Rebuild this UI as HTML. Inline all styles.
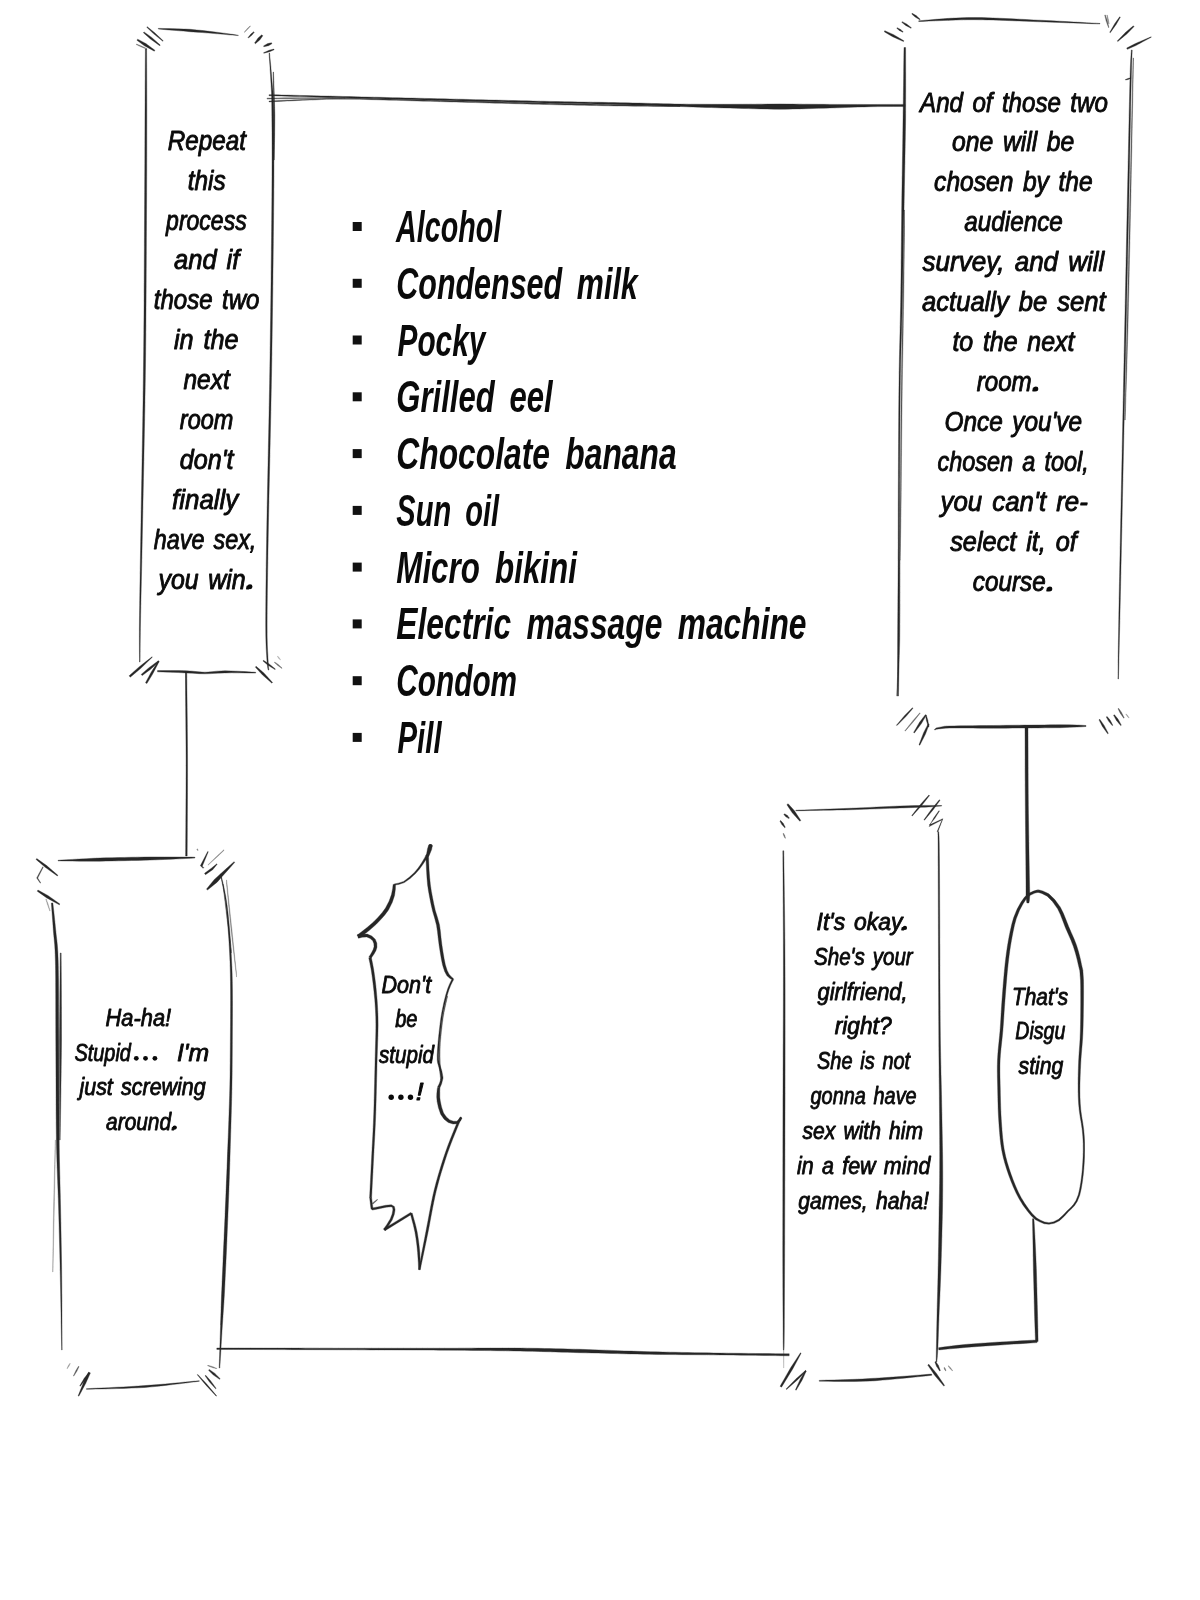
<!DOCTYPE html>
<html><head><meta charset="utf-8"><title>page</title>
<style>
html,body{margin:0;padding:0;background:#fff;}
body{width:1200px;height:1600px;overflow:hidden;font-family:"Liberation Sans",sans-serif;}
svg{display:block;will-change:transform;}
text{font-family:"Liberation Sans",sans-serif;font-style:italic;fill:#0a0a0a;stroke:#0a0a0a;stroke-linejoin:round;}
</style></head><body>
<svg width="1200" height="1600" viewBox="0 0 1200 1600">
<rect width="1200" height="1600" fill="#fff"/>
<defs><filter id="soft" x="-2%" y="-2%" width="104%" height="104%"><feGaussianBlur stdDeviation="0.4"/></filter></defs>
<g filter="url(#soft)">
<path d="M145.40,49.00 L145.36,52.50 L145.33,56.83 L145.29,61.90 L145.26,67.62 L145.22,73.87 L145.18,80.58 L145.14,87.65 L145.09,94.97 L145.05,102.45 L145.00,110.00 L144.98,115.00 L144.96,119.97 L144.95,124.94 L144.93,129.96 L144.91,135.07 L144.89,140.31 L144.87,145.72 L144.85,151.34 L144.83,157.20 L144.80,163.37 L144.77,169.86 L144.73,176.73 L144.69,184.02 L144.65,191.76 L144.60,199.99 L144.57,204.82 L144.55,209.84 L144.52,215.05 L144.50,220.44 L144.47,225.98 L144.44,231.68 L144.41,237.51 L144.39,243.47 L144.36,249.55 L144.32,255.73 L144.29,262.00 L144.26,268.35 L144.22,274.76 L144.19,281.24 L144.15,287.75 L144.11,294.30 L144.07,300.86 L144.02,307.44 L143.98,314.01 L143.93,320.56 L143.87,327.09 L143.82,333.57 L143.76,340.01 L143.70,346.38 L143.64,352.67 L143.57,358.88 L143.50,364.99 L143.43,371.08 L143.36,377.26 L143.28,383.50 L143.20,389.79 L143.11,396.13 L143.02,402.51 L142.92,408.92 L142.82,415.34 L142.72,421.76 L142.61,428.18 L142.51,434.59 L142.40,440.98 L142.29,447.32 L142.18,453.63 L142.07,459.88 L141.96,466.07 L141.86,472.18 L141.75,478.21 L141.64,484.14 L141.54,489.97 L141.44,495.68 L141.34,501.27 L141.24,506.72 L141.15,512.03 L141.06,517.18 L140.98,522.17 L140.90,526.99 L140.77,535.30 L140.64,543.23 L140.52,550.82 L140.40,558.06 L140.28,564.99 L140.17,571.60 L140.06,577.93 L139.96,583.98 L139.87,589.77 L139.78,595.32 L139.70,600.64 L139.63,605.76 L139.56,610.68 L139.50,615.42 L139.45,619.99 L139.38,629.04 L139.36,636.94 L139.38,643.77 L139.41,649.62 L139.46,654.55 L139.51,658.65 L139.55,662.00 L140.05,662.00 L140.10,658.65 L140.13,654.55 L140.17,649.62 L140.22,643.77 L140.29,636.94 L140.40,629.05 L140.55,620.01 L140.63,615.43 L140.73,610.69 L140.83,605.78 L140.93,600.67 L141.05,595.35 L141.17,589.80 L141.30,584.00 L141.43,577.95 L141.57,571.63 L141.71,565.01 L141.86,558.09 L142.02,550.85 L142.17,543.26 L142.33,535.32 L142.50,527.01 L142.59,522.20 L142.69,517.21 L142.79,512.06 L142.90,506.75 L143.01,501.30 L143.13,495.71 L143.24,490.00 L143.36,484.17 L143.48,478.24 L143.60,472.21 L143.73,466.10 L143.85,459.91 L143.98,453.66 L144.10,447.36 L144.22,441.01 L144.35,434.62 L144.47,428.22 L144.59,421.79 L144.70,415.37 L144.82,408.95 L144.93,402.54 L145.03,396.16 L145.14,389.82 L145.24,383.52 L145.33,377.28 L145.42,371.11 L145.50,365.01 L145.57,358.90 L145.64,352.69 L145.70,346.40 L145.76,340.02 L145.82,333.59 L145.87,327.10 L145.93,320.58 L145.98,314.02 L146.02,307.45 L146.07,300.88 L146.11,294.31 L146.15,287.76 L146.19,281.25 L146.22,274.78 L146.26,268.36 L146.29,262.01 L146.32,255.74 L146.36,249.56 L146.39,243.48 L146.41,237.52 L146.44,231.69 L146.47,225.99 L146.50,220.45 L146.52,215.06 L146.55,209.85 L146.57,204.83 L146.60,200.01 L146.64,191.77 L146.67,184.03 L146.69,176.74 L146.72,169.87 L146.73,163.37 L146.75,157.21 L146.76,151.34 L146.77,145.72 L146.77,140.31 L146.78,135.08 L146.78,129.97 L146.79,124.95 L146.79,119.97 L146.79,115.00 L146.80,110.00 L146.79,102.45 L146.77,94.97 L146.76,87.65 L146.74,80.59 L146.72,73.88 L146.70,67.62 L146.67,61.90 L146.65,56.83 L146.62,52.50 L146.60,49.00Z" fill="#262626" stroke="#262626" stroke-width="0.35" stroke-linejoin="round" opacity="1"/>
<path d="M269.05,53.02 L269.38,58.26 L269.90,65.78 L270.45,74.18 L270.90,82.04 L271.22,87.67 L271.49,92.24 L271.69,98.69 L271.80,110.02 L271.85,114.05 L271.89,118.33 L271.93,122.84 L271.96,127.60 L271.99,132.63 L272.01,137.94 L272.03,143.53 L272.03,149.42 L272.04,155.62 L272.03,162.15 L272.01,169.00 L271.99,176.20 L271.95,183.76 L271.91,191.69 L271.85,199.99 L271.81,204.82 L271.77,209.84 L271.73,215.05 L271.68,220.43 L271.63,225.98 L271.57,231.67 L271.52,237.51 L271.46,243.47 L271.39,249.55 L271.33,255.72 L271.26,261.99 L271.19,268.34 L271.11,274.76 L271.04,281.23 L270.96,287.75 L270.88,294.29 L270.80,300.86 L270.71,307.43 L270.63,314.00 L270.54,320.56 L270.45,327.08 L270.36,333.57 L270.27,340.00 L270.18,346.37 L270.09,352.67 L269.99,358.88 L269.90,364.99 L269.80,371.08 L269.70,377.24 L269.60,383.47 L269.49,389.74 L269.37,396.06 L269.25,402.41 L269.13,408.79 L269.01,415.18 L268.88,421.57 L268.75,427.97 L268.62,434.34 L268.49,440.70 L268.37,447.02 L268.24,453.30 L268.11,459.54 L267.98,465.71 L267.85,471.81 L267.73,477.83 L267.61,483.77 L267.49,489.61 L267.38,495.34 L267.27,500.96 L267.16,506.45 L267.06,511.81 L266.97,517.02 L266.88,522.09 L266.80,526.99 L266.67,534.98 L266.55,542.73 L266.44,550.22 L266.33,557.46 L266.23,564.46 L266.14,571.20 L266.06,577.69 L265.98,583.93 L265.91,589.92 L265.86,595.67 L265.81,601.17 L265.77,606.42 L265.74,611.43 L265.71,616.20 L265.70,620.72 L265.70,625.00 L265.79,636.44 L266.02,644.76 L266.32,650.86 L266.63,655.64 L266.90,660.04 L267.60,667.23 L268.15,670.05 L268.85,669.95 L268.54,667.14 L268.10,659.96 L267.87,655.57 L267.60,650.79 L267.34,644.71 L267.15,636.42 L267.10,625.00 L267.11,620.72 L267.14,616.21 L267.17,611.44 L267.22,606.44 L267.27,601.18 L267.33,595.68 L267.40,589.94 L267.48,583.95 L267.57,577.71 L267.66,571.22 L267.77,564.48 L267.88,557.49 L268.00,550.25 L268.13,542.76 L268.26,535.01 L268.40,527.01 L268.49,522.12 L268.58,517.05 L268.69,511.84 L268.79,506.48 L268.90,500.99 L269.02,495.38 L269.14,489.64 L269.27,483.81 L269.40,477.87 L269.53,471.85 L269.66,465.74 L269.80,459.57 L269.93,453.34 L270.07,447.06 L270.21,440.74 L270.34,434.38 L270.48,428.00 L270.61,421.61 L270.75,415.21 L270.88,408.82 L271.01,402.45 L271.13,396.10 L271.26,389.78 L271.37,383.50 L271.49,377.27 L271.60,371.11 L271.70,365.01 L271.80,358.90 L271.89,352.70 L271.99,346.40 L272.09,340.03 L272.18,333.59 L272.27,327.11 L272.37,320.58 L272.46,314.03 L272.55,307.46 L272.63,300.88 L272.72,294.32 L272.80,287.77 L272.88,281.25 L272.96,274.78 L273.04,268.36 L273.12,262.02 L273.19,255.75 L273.26,249.57 L273.33,243.49 L273.39,237.53 L273.45,231.69 L273.51,226.00 L273.56,220.45 L273.62,215.07 L273.66,209.86 L273.71,204.83 L273.75,200.01 L273.81,191.70 L273.87,183.77 L273.91,176.21 L273.94,169.01 L273.96,162.15 L273.98,155.62 L273.98,149.42 L273.98,143.53 L273.97,137.93 L273.95,132.63 L273.93,127.59 L273.91,122.83 L273.87,118.31 L273.84,114.03 L273.80,109.98 L273.49,98.64 L273.09,92.14 L272.62,87.56 L272.10,81.96 L271.47,74.10 L270.74,65.72 L270.05,58.21 L269.55,52.98Z" fill="#262626" stroke="#262626" stroke-width="0.35" stroke-linejoin="round" opacity="1"/>
<path d="M273.10,72.01 L273.16,75.88 L273.27,81.10 L273.40,87.32 L273.54,94.18 L273.67,101.32 L273.76,108.38 L273.80,115.00 L273.87,121.72 L273.89,129.02 L273.88,136.50 L273.85,143.75 L273.82,150.36 L273.80,155.91 L273.80,160.00 L274.20,160.00 L274.28,155.92 L274.39,150.37 L274.50,143.76 L274.62,136.51 L274.71,129.03 L274.78,121.72 L274.80,115.00 L274.67,108.37 L274.49,101.31 L274.28,94.17 L274.06,87.31 L273.84,81.09 L273.64,75.86 L273.50,71.99Z" fill="#262626" stroke="#262626" stroke-width="0.35" stroke-linejoin="round" opacity="1"/>
<path d="M158.28,29.00 L162.69,29.42 L168.98,29.93 L176.23,30.50 L183.52,31.10 L189.91,31.70 L196.67,32.13 L202.93,32.60 L208.94,33.09 L214.92,33.60 L223.69,34.34 L232.28,35.11 L238.28,35.60 L238.32,35.20 L232.37,34.32 L223.82,33.14 L215.08,32.00 L209.12,31.30 L203.12,30.60 L196.85,29.94 L190.09,29.30 L183.64,29.06 L176.33,28.82 L169.05,28.61 L162.74,28.46 L158.32,28.40Z" fill="#262626" stroke="#262626" stroke-width="0.35" stroke-linejoin="round" opacity="1"/>
<path d="M157.49,671.80 L162.83,672.02 L170.55,672.27 L178.85,672.57 L185.95,672.90 L192.93,673.24 L198.89,673.65 L205.00,673.80 L211.26,673.60 L217.57,673.13 L225.02,672.90 L230.93,672.82 L237.96,672.87 L245.09,672.98 L251.33,673.08 L255.69,673.10 L255.71,672.30 L251.37,672.00 L245.14,671.62 L238.01,671.23 L230.97,670.90 L224.98,670.70 L217.44,671.14 L211.13,671.80 L205.00,672.20 L199.00,671.86 L193.07,671.25 L186.05,670.70 L178.90,670.62 L170.58,670.58 L162.86,670.57 L157.51,670.60Z" fill="#262626" stroke="#262626" stroke-width="0.35" stroke-linejoin="round" opacity="1"/>
<path d="M146.75,27.28 L153.71,33.86 L162.80,41.23 L163.20,40.77 L154.69,32.74 L147.25,26.72Z" fill="#262626" stroke="#262626" stroke-width="0.35" stroke-linejoin="round" opacity="1"/>
<path d="M143.39,32.69 L150.41,38.97 L159.75,45.71 L160.25,45.09 L151.66,37.42 L144.01,31.91Z" fill="#262626" stroke="#262626" stroke-width="0.35" stroke-linejoin="round" opacity="1"/>
<path d="M136.95,40.25 L144.39,45.75 L154.32,51.14 L154.88,50.26 L145.78,43.55 L137.65,39.15Z" fill="#262626" stroke="#262626" stroke-width="0.35" stroke-linejoin="round" opacity="1"/>
<path d="M136.20,44.53 L140.91,46.87 L146.92,49.18 L147.08,48.82 L141.32,45.96 L136.40,44.07Z" fill="#262626" stroke="#262626" stroke-width="0.35" stroke-linejoin="round" opacity="0.7"/>
<path d="M250.16,25.86 L247.31,28.56 L244.18,32.19 L244.42,32.41 L247.89,29.11 L250.44,26.14Z" fill="#262626" stroke="#262626" stroke-width="0.35" stroke-linejoin="round" opacity="0.6"/>
<path d="M253.73,31.73 L250.90,34.03 L248.09,37.49 L248.51,37.91 L251.97,35.10 L254.27,32.27Z" fill="#262626" stroke="#262626" stroke-width="0.35" stroke-linejoin="round" opacity="1"/>
<path d="M261.82,34.86 L258.05,38.02 L254.62,42.95 L255.38,43.65 L259.98,39.78 L262.78,35.74Z" fill="#262626" stroke="#262626" stroke-width="0.35" stroke-linejoin="round" opacity="1"/>
<path d="M271.51,42.79 L267.71,43.62 L263.55,45.89 L263.85,46.71 L268.49,45.68 L271.89,43.81Z" fill="#262626" stroke="#262626" stroke-width="0.35" stroke-linejoin="round" opacity="1"/>
<path d="M273.88,49.05 L269.12,50.31 L263.60,52.72 L263.80,53.28 L269.61,51.73 L274.12,49.75Z" fill="#262626" stroke="#262626" stroke-width="0.35" stroke-linejoin="round" opacity="1"/>
<path d="M130.28,677.17 L140.55,668.56 L146.44,662.86 L152.34,657.17 L152.06,656.83 L145.58,661.86 L139.10,666.89 L129.12,675.83Z" fill="#262626" stroke="#262626" stroke-width="0.35" stroke-linejoin="round" opacity="1"/>
<path d="M142.19,675.60 L150.04,669.64 L159.05,661.63 L158.35,660.77 L148.66,667.94 L141.21,674.40Z" fill="#262626" stroke="#262626" stroke-width="0.35" stroke-linejoin="round" opacity="1"/>
<path d="M146.87,683.58 L152.78,673.84 L159.18,661.47 L158.22,660.93 L150.87,672.76 L145.53,682.82Z" fill="#262626" stroke="#262626" stroke-width="0.35" stroke-linejoin="round" opacity="1"/>
<path d="M255.30,667.11 L262.32,674.77 L271.88,683.13 L272.52,682.47 L263.93,673.12 L256.10,666.29Z" fill="#262626" stroke="#262626" stroke-width="0.35" stroke-linejoin="round" opacity="1"/>
<path d="M262.95,661.05 L268.10,665.26 L275.00,669.58 L275.40,669.02 L269.10,663.88 L263.45,660.35Z" fill="#262626" stroke="#262626" stroke-width="0.35" stroke-linejoin="round" opacity="1"/>
<path d="M274.31,662.43 L277.50,665.37 L281.85,668.39 L282.15,668.01 L278.25,664.43 L274.69,661.97Z" fill="#262626" stroke="#262626" stroke-width="0.35" stroke-linejoin="round" opacity="0.7"/>
<path d="M277.34,656.32 L278.54,658.16 L280.37,660.10 L280.63,659.90 L279.16,657.66 L277.66,656.08Z" fill="#262626" stroke="#262626" stroke-width="0.35" stroke-linejoin="round" opacity="0.4"/>
<path d="M268.99,95.70 L272.51,95.81 L276.80,95.93 L281.76,96.08 L287.31,96.24 L293.38,96.41 L299.86,96.60 L306.68,96.79 L313.76,96.99 L321.00,97.19 L328.33,97.40 L335.66,97.60 L342.91,97.80 L349.98,98.00 L355.71,98.15 L361.57,98.31 L367.56,98.46 L373.65,98.62 L379.83,98.79 L386.09,98.95 L392.42,99.11 L398.79,99.28 L405.21,99.45 L411.65,99.61 L418.09,99.78 L424.54,99.95 L430.96,100.11 L437.35,100.28 L443.70,100.44 L449.98,100.60 L456.29,100.75 L462.69,100.91 L469.16,101.07 L475.68,101.23 L482.24,101.39 L488.80,101.55 L495.35,101.71 L501.86,101.87 L508.31,102.02 L514.68,102.18 L520.95,102.33 L527.09,102.47 L533.09,102.61 L538.92,102.75 L544.56,102.88 L549.98,103.00 L557.51,103.17 L564.67,103.33 L571.51,103.47 L578.07,103.61 L584.39,103.73 L590.53,103.85 L596.53,103.97 L602.42,104.10 L608.27,104.22 L614.11,104.36 L619.98,104.50 L626.43,104.69 L632.77,104.89 L639.02,105.10 L645.17,105.32 L651.22,105.53 L657.17,105.74 L663.02,105.95 L668.77,106.15 L674.42,106.33 L679.97,106.50 L686.70,106.74 L693.17,106.97 L699.45,107.18 L705.60,107.38 L711.66,107.57 L717.71,107.75 L723.79,107.93 L729.98,108.10 L736.23,108.28 L742.48,108.45 L748.73,108.62 L754.98,108.78 L761.23,108.93 L767.49,109.07 L773.74,109.19 L780.00,109.30 L786.33,109.18 L792.75,109.04 L799.21,108.88 L805.65,108.71 L812.00,108.54 L818.23,108.36 L824.25,108.18 L830.02,108.00 L837.33,107.79 L844.28,107.57 L850.96,107.34 L857.43,107.11 L863.76,106.90 L870.01,106.70 L877.89,106.61 L886.05,106.54 L893.76,106.49 L900.32,106.44 L905.00,106.40 L905.00,104.40 L900.32,104.40 L893.76,104.41 L886.03,104.42 L877.87,104.45 L869.99,104.50 L863.72,104.46 L857.39,104.44 L850.91,104.44 L844.23,104.43 L837.28,104.42 L829.98,104.40 L824.21,104.35 L818.18,104.31 L811.96,104.26 L805.60,104.21 L799.17,104.15 L792.72,104.09 L786.31,104.00 L780.00,103.90 L773.76,103.99 L767.51,104.07 L761.27,104.13 L755.02,104.18 L748.77,104.22 L742.52,104.25 L736.27,104.28 L730.02,104.30 L723.84,104.30 L717.76,104.30 L711.72,104.30 L705.65,104.28 L699.51,104.26 L693.23,104.22 L686.76,104.17 L680.03,104.10 L674.48,103.99 L668.83,103.87 L663.08,103.73 L657.23,103.58 L651.28,103.43 L645.23,103.28 L639.08,103.12 L632.83,102.97 L626.47,102.83 L620.02,102.70 L614.14,102.57 L608.31,102.46 L602.46,102.35 L596.56,102.25 L590.56,102.15 L584.43,102.04 L578.10,101.93 L571.54,101.82 L564.70,101.69 L557.55,101.55 L550.02,101.40 L544.59,101.28 L538.95,101.15 L533.13,101.01 L527.13,100.87 L520.98,100.73 L514.72,100.58 L508.35,100.42 L501.89,100.27 L495.38,100.11 L488.84,99.95 L482.28,99.79 L475.72,99.63 L469.20,99.47 L462.72,99.31 L456.32,99.15 L450.02,99.00 L443.73,98.85 L437.39,98.70 L431.00,98.55 L424.57,98.40 L418.13,98.24 L411.68,98.09 L405.25,97.94 L398.83,97.78 L392.45,97.63 L386.13,97.48 L379.87,97.32 L373.68,97.17 L367.59,97.03 L361.61,96.88 L355.75,96.74 L350.02,96.60 L342.94,96.44 L335.70,96.26 L328.37,96.09 L321.04,95.92 L313.79,95.74 L306.71,95.58 L299.89,95.41 L293.41,95.26 L287.34,95.12 L281.79,94.99 L276.82,94.87 L272.54,94.78 L269.01,94.70Z" fill="#262626" stroke="#262626" stroke-width="0.35" stroke-linejoin="round" opacity="1"/>
<path d="M269.02,101.90 L273.49,101.69 L279.69,101.39 L287.02,101.03 L294.91,100.66 L302.77,100.32 L310.02,100.05 L316.05,99.81 L321.21,99.56 L326.33,99.34 L332.27,99.19 L339.87,99.13 L350.00,99.20 L354.59,99.27 L359.62,99.37 L365.03,99.49 L370.77,99.63 L376.81,99.79 L383.09,99.96 L389.58,100.14 L396.23,100.33 L403.00,100.53 L409.85,100.73 L416.72,100.94 L423.58,101.14 L430.38,101.34 L437.07,101.54 L443.62,101.72 L449.98,101.90 L456.29,102.07 L462.69,102.25 L469.16,102.42 L475.69,102.60 L482.24,102.78 L488.80,102.97 L495.35,103.15 L501.86,103.32 L508.31,103.50 L514.68,103.68 L520.95,103.84 L527.09,104.01 L533.09,104.17 L538.92,104.32 L544.56,104.46 L549.98,104.60 L557.51,104.77 L564.67,104.93 L571.51,105.08 L578.07,105.21 L584.40,105.34 L590.54,105.46 L596.53,105.57 L602.43,105.68 L608.27,105.79 L614.11,105.89 L619.99,106.00 L626.66,106.08 L633.59,106.16 L640.62,106.24 L647.59,106.32 L654.37,106.39 L660.79,106.45 L666.72,106.51 L671.99,106.55 L676.47,106.58 L680.00,106.60 L680.00,106.00 L676.48,105.90 L672.01,105.79 L666.73,105.67 L660.81,105.53 L654.38,105.39 L647.61,105.24 L640.63,105.08 L633.61,104.92 L626.69,104.76 L620.01,104.60 L614.14,104.49 L608.30,104.39 L602.45,104.28 L596.56,104.17 L590.56,104.06 L584.42,103.94 L578.10,103.81 L571.54,103.68 L564.70,103.53 L557.54,103.37 L550.02,103.20 L544.59,103.08 L538.95,102.95 L533.12,102.81 L527.13,102.66 L520.98,102.51 L514.71,102.35 L508.34,102.19 L501.89,102.03 L495.38,101.86 L488.84,101.69 L482.27,101.52 L475.72,101.35 L469.19,101.19 L462.72,101.02 L456.32,100.86 L450.02,100.70 L443.66,100.54 L437.11,100.36 L430.41,100.18 L423.61,99.99 L416.75,99.80 L409.88,99.61 L403.04,99.42 L396.27,99.23 L389.61,99.05 L383.12,98.88 L376.83,98.72 L370.79,98.58 L365.05,98.45 L359.64,98.35 L354.61,98.26 L350.00,98.20 L339.87,98.14 L332.25,98.22 L326.30,98.39 L321.16,98.63 L316.01,98.89 L309.98,99.15 L302.73,99.44 L294.87,99.80 L286.98,100.18 L279.65,100.55 L273.45,100.87 L268.98,101.10Z" fill="#262626" stroke="#262626" stroke-width="0.35" stroke-linejoin="round" opacity="0.9"/>
<path d="M267.01,99.05 L271.30,98.98 L277.26,98.87 L284.36,98.75 L292.11,98.64 L300.00,98.55 L306.20,98.46 L313.30,98.38 L320.81,98.30 L328.23,98.23 L335.07,98.17 L340.83,98.11 L345.00,98.05 L345.00,97.75 L340.83,97.72 L335.07,97.70 L328.23,97.68 L320.81,97.66 L313.29,97.65 L306.19,97.65 L300.00,97.65 L292.10,97.74 L284.34,97.85 L277.24,97.97 L271.29,98.08 L266.99,98.15Z" fill="#262626" stroke="#262626" stroke-width="0.35" stroke-linejoin="round" opacity="0.8"/>
<path d="M185.25,672.01 L185.29,675.56 L185.33,679.89 L185.39,684.90 L185.46,690.50 L185.53,696.61 L185.60,703.15 L185.68,710.01 L185.75,717.12 L185.82,724.38 L185.89,731.71 L185.94,739.03 L185.99,746.24 L186.03,753.26 L186.05,760.00 L186.05,765.96 L186.05,772.27 L186.03,778.87 L186.01,785.69 L185.98,792.63 L185.95,799.63 L185.91,806.61 L185.88,813.50 L185.83,820.21 L185.79,826.67 L185.75,832.82 L185.71,838.56 L185.68,843.82 L185.65,848.53 L185.62,852.62 L185.60,856.00 L187.20,856.00 L187.21,852.63 L187.23,848.54 L187.26,843.83 L187.29,838.57 L187.32,832.83 L187.35,826.68 L187.39,820.22 L187.42,813.50 L187.46,806.62 L187.49,799.64 L187.52,792.63 L187.54,785.69 L187.55,778.88 L187.56,772.27 L187.56,765.96 L187.55,760.00 L187.53,753.26 L187.49,746.23 L187.44,739.02 L187.39,731.70 L187.32,724.37 L187.25,717.10 L187.17,709.99 L187.10,703.13 L187.03,696.60 L186.96,690.49 L186.89,684.88 L186.83,679.87 L186.79,675.55 L186.75,671.99Z" fill="#262626" stroke="#262626" stroke-width="0.35" stroke-linejoin="round" opacity="1"/>
<path d="M918.72,21.55 L922.98,21.40 L928.97,21.12 L935.97,20.80 L943.24,20.50 L950.05,20.30 L955.98,20.07 L961.54,19.87 L967.31,19.73 L973.92,19.69 L981.98,19.80 L987.26,19.89 L993.07,20.04 L999.29,20.24 L1005.84,20.47 L1012.62,20.72 L1019.52,21.00 L1026.44,21.27 L1033.29,21.54 L1039.97,21.80 L1046.16,22.01 L1052.80,22.25 L1059.71,22.50 L1066.71,22.76 L1073.60,23.02 L1080.20,23.26 L1086.33,23.49 L1091.79,23.69 L1096.41,23.84 L1099.99,23.95 L1100.01,23.45 L1096.43,23.23 L1091.82,22.97 L1086.37,22.66 L1080.25,22.33 L1073.65,21.97 L1066.76,21.60 L1059.77,21.23 L1052.86,20.87 L1046.22,20.52 L1040.03,20.20 L1033.36,19.88 L1026.52,19.54 L1019.60,19.20 L1012.70,18.86 L1005.92,18.54 L999.37,18.24 L993.14,17.98 L987.32,17.76 L982.02,17.60 L973.93,17.53 L967.28,17.61 L961.47,17.79 L955.90,18.03 L949.95,18.30 L943.15,18.76 L935.88,19.32 L928.89,19.91 L922.91,20.44 L918.68,20.85Z" fill="#262626" stroke="#262626" stroke-width="0.35" stroke-linejoin="round" opacity="1"/>
<path d="M904.00,47.50 L903.94,50.97 L903.87,55.30 L903.80,60.35 L903.73,66.01 L903.66,72.18 L903.58,78.74 L903.50,85.58 L903.41,92.58 L903.32,99.64 L903.22,106.63 L903.11,113.45 L903.00,119.98 L902.93,125.84 L902.86,131.68 L902.78,137.52 L902.70,143.39 L902.61,149.29 L902.51,155.25 L902.41,161.29 L902.31,167.41 L902.21,173.64 L902.11,180.00 L902.00,186.50 L901.90,193.15 L901.80,199.98 L901.74,205.72 L901.67,211.66 L901.61,217.78 L901.55,224.05 L901.48,230.43 L901.42,236.90 L901.35,243.43 L901.28,249.99 L901.21,256.54 L901.14,263.07 L901.07,269.54 L901.00,275.92 L900.93,282.19 L900.85,288.31 L900.78,294.25 L900.70,299.99 L900.58,306.74 L900.45,313.19 L900.32,319.40 L900.18,325.42 L900.04,331.30 L899.90,337.09 L899.76,342.87 L899.62,348.67 L899.49,354.55 L899.36,360.57 L899.25,366.78 L899.14,373.23 L899.05,379.99 L898.97,385.74 L898.91,391.71 L898.84,397.86 L898.78,404.17 L898.73,410.61 L898.68,417.13 L898.64,423.71 L898.59,430.31 L898.56,436.90 L898.52,443.45 L898.49,449.92 L898.46,456.29 L898.43,462.51 L898.40,468.56 L898.38,474.40 L898.35,480.00 L898.31,487.09 L898.29,493.83 L898.27,500.27 L898.25,506.48 L898.24,512.52 L898.24,518.44 L898.23,524.31 L898.22,530.19 L898.21,536.13 L898.20,542.21 L898.18,548.48 L898.15,555.00 L898.12,560.83 L898.09,566.87 L898.06,573.07 L898.02,579.40 L897.98,585.80 L897.94,592.25 L897.89,598.68 L897.85,605.07 L897.81,611.37 L897.76,617.53 L897.72,623.52 L897.68,629.29 L897.64,634.79 L897.60,639.99 L897.58,647.80 L897.56,655.46 L897.54,662.88 L897.53,669.95 L897.51,676.54 L897.50,682.55 L897.49,687.87 L897.49,692.39 L897.50,696.00 L898.50,696.00 L898.56,692.40 L898.63,687.88 L898.70,682.56 L898.78,676.55 L898.86,669.96 L898.94,662.89 L899.03,655.47 L899.12,647.81 L899.20,640.01 L899.23,634.80 L899.26,629.30 L899.30,623.53 L899.33,617.54 L899.37,611.38 L899.41,605.08 L899.44,598.69 L899.48,592.26 L899.51,585.81 L899.55,579.41 L899.58,573.08 L899.61,566.88 L899.63,560.84 L899.65,555.00 L899.66,548.48 L899.67,542.21 L899.66,536.13 L899.66,530.19 L899.65,524.31 L899.64,518.44 L899.63,512.52 L899.62,506.48 L899.62,500.27 L899.62,493.83 L899.63,487.10 L899.65,480.00 L899.68,474.40 L899.70,468.56 L899.73,462.51 L899.76,456.29 L899.79,449.93 L899.82,443.46 L899.86,436.91 L899.89,430.32 L899.94,423.72 L899.98,417.14 L900.03,410.62 L900.08,404.19 L900.14,397.88 L900.21,391.72 L900.27,385.75 L900.35,380.01 L900.46,373.26 L900.59,366.80 L900.73,360.60 L900.88,354.58 L901.03,348.70 L901.19,342.90 L901.36,337.13 L901.52,331.33 L901.69,325.45 L901.85,319.44 L902.01,313.23 L902.16,306.77 L902.30,300.01 L902.43,294.28 L902.55,288.33 L902.68,282.22 L902.80,275.95 L902.92,269.57 L903.04,263.10 L903.16,256.57 L903.28,250.01 L903.40,243.46 L903.52,236.93 L903.63,230.46 L903.75,224.08 L903.86,217.81 L903.97,211.70 L904.09,205.75 L904.20,200.02 L904.32,193.19 L904.43,186.54 L904.55,180.04 L904.67,173.69 L904.79,167.45 L904.91,161.33 L905.02,155.30 L905.13,149.33 L905.23,143.43 L905.34,137.56 L905.43,131.71 L905.52,125.87 L905.60,120.02 L905.63,113.48 L905.65,106.65 L905.67,99.66 L905.68,92.60 L905.68,85.60 L905.68,78.76 L905.68,72.19 L905.67,66.02 L905.65,60.36 L905.64,55.31 L905.62,50.98 L905.60,47.50Z" fill="#262626" stroke="#262626" stroke-width="0.35" stroke-linejoin="round" opacity="1"/>
<path d="M904.40,210.00 L904.33,213.36 L904.25,217.41 L904.15,222.08 L904.05,227.28 L903.94,232.96 L903.83,239.04 L903.71,245.44 L903.59,252.10 L903.46,258.95 L903.33,265.92 L903.20,272.93 L903.08,279.91 L902.95,286.80 L902.82,293.52 L902.70,299.99 L902.60,305.97 L902.50,312.01 L902.40,318.12 L902.30,324.29 L902.19,330.50 L902.08,336.76 L901.98,343.05 L901.87,349.37 L901.76,355.70 L901.66,362.05 L901.56,368.41 L901.46,374.76 L901.36,381.10 L901.27,387.42 L901.18,393.73 L901.10,399.99 L901.03,406.32 L900.96,412.77 L900.89,419.32 L900.83,425.93 L900.78,432.59 L900.72,439.25 L900.67,445.90 L900.62,452.50 L900.57,459.01 L900.52,465.43 L900.48,471.70 L900.43,477.81 L900.39,483.72 L900.34,489.41 L900.30,494.84 L900.25,500.00 L900.19,507.89 L900.14,515.52 L900.08,522.83 L900.02,529.76 L899.97,536.25 L899.92,542.24 L899.88,547.67 L899.84,552.48 L899.82,556.61 L899.80,560.00 L900.20,560.00 L900.27,556.61 L900.34,552.48 L900.43,547.67 L900.52,542.24 L900.62,536.25 L900.72,529.76 L900.83,522.83 L900.94,515.52 L901.04,507.89 L901.15,500.00 L901.20,494.85 L901.25,489.42 L901.31,483.73 L901.36,477.82 L901.41,471.71 L901.46,465.43 L901.51,459.02 L901.57,452.50 L901.63,445.91 L901.68,439.26 L901.74,432.60 L901.81,425.94 L901.88,419.33 L901.95,412.78 L902.02,406.33 L902.10,400.01 L902.18,393.74 L902.27,387.44 L902.36,381.11 L902.46,374.77 L902.55,368.42 L902.66,362.07 L902.76,355.72 L902.87,349.38 L902.98,343.07 L903.08,336.78 L903.19,330.52 L903.30,324.31 L903.40,318.14 L903.50,312.03 L903.60,305.98 L903.70,300.01 L903.78,293.53 L903.87,286.81 L903.96,279.93 L904.04,272.94 L904.13,265.93 L904.22,258.97 L904.31,252.12 L904.39,245.45 L904.47,239.04 L904.54,232.97 L904.61,227.29 L904.67,222.08 L904.72,217.42 L904.77,213.37 L904.80,210.00Z" fill="#262626" stroke="#262626" stroke-width="0.35" stroke-linejoin="round" opacity="0.8"/>
<path d="M899.55,560.00 L899.51,563.60 L899.48,568.14 L899.45,573.49 L899.42,579.50 L899.38,586.03 L899.34,592.95 L899.30,600.09 L899.24,607.34 L899.18,614.53 L899.11,621.53 L899.02,628.21 L898.92,634.41 L898.80,639.99 L898.62,647.57 L898.39,655.12 L898.12,662.50 L897.82,669.59 L897.52,676.25 L897.23,682.35 L896.97,687.76 L896.75,692.35 L896.60,695.98 L897.40,696.02 L897.58,692.39 L897.81,687.80 L898.10,682.39 L898.41,676.29 L898.73,669.63 L899.05,662.54 L899.34,655.15 L899.60,647.60 L899.80,640.01 L899.88,634.42 L899.94,628.22 L899.99,621.54 L900.03,614.54 L900.05,607.34 L900.06,600.10 L900.07,592.95 L900.07,586.04 L900.07,579.50 L900.06,573.49 L900.06,568.14 L900.05,563.60 L900.05,560.00Z" fill="#262626" stroke="#262626" stroke-width="0.35" stroke-linejoin="round" opacity="0.7"/>
<path d="M1131.40,49.98 L1131.21,52.61 L1130.97,55.49 L1130.68,60.06 L1130.34,67.74 L1129.95,79.98 L1129.85,83.86 L1129.75,87.98 L1129.65,92.34 L1129.54,96.95 L1129.43,101.78 L1129.32,106.85 L1129.20,112.15 L1129.09,117.67 L1128.96,123.41 L1128.84,129.36 L1128.71,135.53 L1128.57,141.91 L1128.44,148.49 L1128.30,155.27 L1128.15,162.25 L1128.00,169.43 L1127.84,176.79 L1127.68,184.34 L1127.52,192.07 L1127.35,199.98 L1127.25,204.91 L1127.14,209.97 L1127.04,215.16 L1126.93,220.48 L1126.81,225.92 L1126.70,231.48 L1126.58,237.14 L1126.46,242.90 L1126.34,248.76 L1126.22,254.70 L1126.09,260.73 L1125.97,266.82 L1125.84,272.98 L1125.71,279.21 L1125.58,285.48 L1125.45,291.81 L1125.32,298.17 L1125.18,304.57 L1125.05,310.99 L1124.91,317.43 L1124.78,323.89 L1124.65,330.36 L1124.51,336.82 L1124.38,343.28 L1124.24,349.72 L1124.11,356.14 L1123.98,362.54 L1123.85,368.90 L1123.71,375.23 L1123.58,381.50 L1123.45,387.73 L1123.33,393.89 L1123.20,399.99 L1123.07,406.10 L1122.95,412.32 L1122.82,418.62 L1122.69,425.01 L1122.55,431.47 L1122.42,437.99 L1122.28,444.55 L1122.15,451.16 L1122.01,457.80 L1121.87,464.46 L1121.73,471.13 L1121.60,477.80 L1121.46,484.46 L1121.32,491.10 L1121.18,497.71 L1121.05,504.28 L1120.91,510.80 L1120.78,517.26 L1120.65,523.65 L1120.52,529.95 L1120.39,536.17 L1120.27,542.28 L1120.14,548.29 L1120.02,554.17 L1119.91,559.92 L1119.79,565.53 L1119.68,570.99 L1119.57,576.28 L1119.47,581.41 L1119.37,586.35 L1119.28,591.10 L1119.19,595.65 L1119.10,599.99 L1118.92,610.25 L1118.76,619.60 L1118.62,628.10 L1118.50,635.81 L1118.39,642.78 L1118.30,649.08 L1118.23,654.76 L1118.16,659.87 L1118.10,664.48 L1118.06,668.64 L1118.02,672.40 L1117.98,675.84 L1117.95,679.00 L1118.45,679.00 L1118.54,675.85 L1118.62,672.41 L1118.72,668.65 L1118.82,664.49 L1118.93,659.88 L1119.05,654.77 L1119.18,649.10 L1119.32,642.80 L1119.48,635.83 L1119.66,628.12 L1119.85,619.62 L1120.06,610.27 L1120.30,600.01 L1120.39,595.68 L1120.49,591.13 L1120.59,586.38 L1120.69,581.43 L1120.80,576.31 L1120.92,571.01 L1121.03,565.56 L1121.15,559.95 L1121.28,554.19 L1121.40,548.31 L1121.53,542.31 L1121.66,536.20 L1121.80,529.98 L1121.93,523.67 L1122.07,517.29 L1122.21,510.83 L1122.35,504.31 L1122.49,497.74 L1122.64,491.13 L1122.78,484.49 L1122.92,477.83 L1123.07,471.16 L1123.21,464.49 L1123.35,457.83 L1123.50,451.19 L1123.64,444.58 L1123.78,438.01 L1123.92,431.50 L1124.06,425.04 L1124.20,418.65 L1124.33,412.34 L1124.47,406.13 L1124.60,400.01 L1124.73,393.92 L1124.86,387.76 L1124.99,381.53 L1125.13,375.26 L1125.26,368.93 L1125.40,362.57 L1125.53,356.17 L1125.67,349.75 L1125.80,343.31 L1125.94,336.85 L1126.08,330.39 L1126.22,323.92 L1126.35,317.47 L1126.49,311.02 L1126.63,304.60 L1126.76,298.20 L1126.90,291.84 L1127.03,285.51 L1127.17,279.24 L1127.30,273.02 L1127.43,266.85 L1127.56,260.76 L1127.69,254.73 L1127.81,248.79 L1127.94,242.94 L1128.06,237.17 L1128.18,231.51 L1128.30,225.96 L1128.41,220.51 L1128.53,215.19 L1128.64,210.00 L1128.75,204.94 L1128.85,200.02 L1129.01,192.10 L1129.16,184.37 L1129.31,176.82 L1129.46,169.45 L1129.60,162.28 L1129.74,155.30 L1129.87,148.52 L1129.99,141.93 L1130.12,135.56 L1130.24,129.39 L1130.35,123.43 L1130.47,117.69 L1130.57,112.17 L1130.68,106.88 L1130.78,101.81 L1130.88,96.97 L1130.98,92.37 L1131.07,88.01 L1131.16,83.89 L1131.25,80.02 L1131.54,67.78 L1131.78,60.10 L1131.97,55.55 L1132.11,52.67 L1132.20,50.02Z" fill="#262626" stroke="#262626" stroke-width="0.35" stroke-linejoin="round" opacity="1"/>
<path d="M1133.05,57.99 L1132.97,61.35 L1132.88,65.24 L1132.77,69.60 L1132.66,74.41 L1132.54,79.63 L1132.41,85.22 L1132.28,91.14 L1132.14,97.35 L1131.99,103.82 L1131.84,110.51 L1131.69,117.38 L1131.53,124.39 L1131.37,131.50 L1131.20,138.68 L1131.04,145.89 L1130.88,153.08 L1130.72,160.23 L1130.56,167.29 L1130.40,174.23 L1130.24,181.01 L1130.09,187.59 L1129.94,193.93 L1129.80,199.99 L1129.66,206.48 L1129.52,213.00 L1129.38,219.54 L1129.23,226.09 L1129.09,232.63 L1128.95,239.17 L1128.81,245.69 L1128.67,252.19 L1128.52,258.64 L1128.38,265.05 L1128.24,271.41 L1128.10,277.70 L1127.96,283.92 L1127.83,290.06 L1127.69,296.11 L1127.55,302.06 L1127.42,307.90 L1127.29,313.62 L1127.16,319.22 L1127.03,324.67 L1126.90,329.99 L1126.74,337.34 L1126.58,344.68 L1126.41,351.99 L1126.24,359.20 L1126.07,366.29 L1125.91,373.19 L1125.75,379.87 L1125.59,386.29 L1125.44,392.39 L1125.30,398.14 L1125.17,403.49 L1125.06,408.39 L1124.96,412.81 L1124.87,416.69 L1124.80,419.99 L1125.20,420.01 L1125.31,416.70 L1125.44,412.82 L1125.58,408.41 L1125.73,403.50 L1125.90,398.16 L1126.08,392.41 L1126.27,386.31 L1126.47,379.89 L1126.67,373.21 L1126.87,366.31 L1127.08,359.23 L1127.29,352.01 L1127.50,344.71 L1127.70,337.36 L1127.90,330.01 L1128.03,324.70 L1128.16,319.24 L1128.29,313.64 L1128.42,307.92 L1128.55,302.08 L1128.69,296.13 L1128.83,290.09 L1128.96,283.95 L1129.10,277.73 L1129.24,271.43 L1129.38,265.08 L1129.52,258.66 L1129.67,252.21 L1129.81,245.71 L1129.95,239.19 L1130.09,232.66 L1130.23,226.11 L1130.38,219.56 L1130.52,213.02 L1130.66,206.50 L1130.80,200.01 L1130.92,193.95 L1131.05,187.61 L1131.18,181.03 L1131.31,174.25 L1131.45,167.31 L1131.59,160.25 L1131.73,153.10 L1131.87,145.90 L1132.01,138.70 L1132.15,131.52 L1132.29,124.40 L1132.42,117.39 L1132.56,110.53 L1132.69,103.84 L1132.81,97.37 L1132.93,91.15 L1133.04,85.23 L1133.15,79.64 L1133.25,74.43 L1133.34,69.61 L1133.42,65.25 L1133.49,61.37 L1133.55,58.01Z" fill="#262626" stroke="#262626" stroke-width="0.35" stroke-linejoin="round" opacity="0.8"/>
<path d="M1125.58,80.04 L1128.13,79.47 L1131.06,78.19 L1130.94,77.81 L1127.82,78.51 L1125.42,79.56Z" fill="#262626" stroke="#262626" stroke-width="0.35" stroke-linejoin="round" opacity="1"/>
<path d="M884.25,31.69 L892.63,36.68 L903.50,41.59 L903.90,40.81 L893.65,34.72 L884.75,30.71Z" fill="#262626" stroke="#262626" stroke-width="0.35" stroke-linejoin="round" opacity="1"/>
<path d="M896.81,28.29 L899.31,30.38 L902.84,32.23 L903.16,31.77 L900.09,29.22 L897.19,27.71Z" fill="#262626" stroke="#262626" stroke-width="0.35" stroke-linejoin="round" opacity="1"/>
<path d="M901.77,22.36 L905.68,25.41 L911.01,28.28 L911.39,27.72 L906.60,23.99 L902.23,21.64Z" fill="#262626" stroke="#262626" stroke-width="0.35" stroke-linejoin="round" opacity="1"/>
<path d="M911.75,14.04 L915.10,17.00 L919.80,19.78 L920.20,19.22 L916.10,15.62 L912.25,13.36Z" fill="#262626" stroke="#262626" stroke-width="0.35" stroke-linejoin="round" opacity="1"/>
<path d="M1104.71,15.09 L1106.09,20.80 L1108.47,27.57 L1108.93,27.43 L1107.24,20.45 L1105.29,14.91Z" fill="#262626" stroke="#262626" stroke-width="0.35" stroke-linejoin="round" opacity="0.8"/>
<path d="M1106.80,15.04 L1107.51,19.14 L1108.84,24.03 L1109.16,23.97 L1108.29,18.96 L1107.20,14.96Z" fill="#262626" stroke="#262626" stroke-width="0.35" stroke-linejoin="round" opacity="0.6"/>
<path d="M1119.68,16.80 L1114.87,23.57 L1109.75,32.34 L1110.25,32.66 L1116.13,24.38 L1120.32,17.20Z" fill="#262626" stroke="#262626" stroke-width="0.35" stroke-linejoin="round" opacity="1"/>
<path d="M1133.36,25.83 L1125.73,32.22 L1117.23,40.91 L1117.77,41.49 L1127.09,33.68 L1134.04,26.57Z" fill="#262626" stroke="#262626" stroke-width="0.35" stroke-linejoin="round" opacity="1"/>
<path d="M1151.11,36.82 L1143.07,40.26 L1135.03,43.70 L1126.70,48.07 L1127.30,49.33 L1135.91,45.51 L1143.60,41.34 L1151.29,37.18Z" fill="#262626" stroke="#262626" stroke-width="0.35" stroke-linejoin="round" opacity="1"/>
<path d="M934.78,730.04 L936.52,729.16 L945.11,728.19 L949.15,728.10 L954.14,728.06 L959.85,728.04 L966.11,728.06 L972.77,728.09 L979.65,728.13 L986.59,728.17 L993.43,728.20 L1000.01,728.20 L1005.96,728.16 L1012.24,728.11 L1018.72,728.05 L1025.29,728.00 L1031.83,727.94 L1038.22,727.88 L1044.36,727.83 L1050.11,727.78 L1055.37,727.73 L1060.01,727.70 L1069.51,727.37 L1076.76,727.06 L1082.13,726.78 L1086.00,726.50 L1086.00,725.50 L1082.12,725.28 L1076.74,725.06 L1069.49,724.87 L1059.99,724.70 L1055.34,724.75 L1050.08,724.82 L1044.33,724.89 L1038.19,724.96 L1031.80,725.04 L1025.26,725.12 L1018.69,725.19 L1012.21,725.27 L1005.94,725.34 L999.99,725.40 L993.42,725.49 L986.58,725.55 L979.64,725.60 L972.76,725.65 L966.11,725.70 L959.84,725.78 L954.11,725.88 L949.10,726.02 L944.89,726.21 L936.20,727.89 L934.42,729.56Z" fill="#262626" stroke="#262626" stroke-width="0.35" stroke-linejoin="round" opacity="1"/>
<path d="M912.41,707.73 L904.91,715.29 L896.46,725.18 L896.94,725.62 L906.09,716.37 L912.99,708.27Z" fill="#262626" stroke="#262626" stroke-width="0.35" stroke-linejoin="round" opacity="1"/>
<path d="M919.81,712.84 L912.87,720.78 L904.85,730.87 L905.15,731.13 L913.63,721.42 L920.19,713.16Z" fill="#262626" stroke="#262626" stroke-width="0.35" stroke-linejoin="round" opacity="0.7"/>
<path d="M925.34,714.69 L919.57,722.35 L913.63,732.46 L914.37,732.94 L921.41,723.58 L926.26,715.31Z" fill="#262626" stroke="#262626" stroke-width="0.35" stroke-linejoin="round" opacity="1"/>
<path d="M928.20,723.78 L923.51,733.00 L919.00,744.82 L919.80,745.18 L925.52,733.90 L929.20,724.22Z" fill="#262626" stroke="#262626" stroke-width="0.35" stroke-linejoin="round" opacity="1"/>
<path d="M925.44,715.09 L926.38,720.58 L928.41,727.07 L928.99,726.93 L927.83,720.22 L926.16,714.91Z" fill="#262626" stroke="#262626" stroke-width="0.35" stroke-linejoin="round" opacity="1"/>
<path d="M1098.97,719.86 L1102.42,726.42 L1107.66,733.81 L1108.34,733.39 L1104.12,725.38 L1099.83,719.34Z" fill="#262626" stroke="#262626" stroke-width="0.35" stroke-linejoin="round" opacity="1"/>
<path d="M1106.33,716.95 L1108.56,721.11 L1112.20,725.60 L1112.80,725.20 L1110.06,720.12 L1107.07,716.45Z" fill="#262626" stroke="#262626" stroke-width="0.35" stroke-linejoin="round" opacity="1"/>
<path d="M1113.59,715.28 L1116.32,720.24 L1120.67,725.62 L1121.33,725.18 L1117.98,719.12 L1114.41,714.72Z" fill="#262626" stroke="#262626" stroke-width="0.35" stroke-linejoin="round" opacity="1"/>
<path d="M1117.98,708.69 L1120.22,713.16 L1123.74,718.15 L1124.26,717.85 L1121.51,712.39 L1118.62,708.31Z" fill="#262626" stroke="#262626" stroke-width="0.35" stroke-linejoin="round" opacity="0.8"/>
<path d="M1125.84,714.12 L1127.03,716.04 L1128.87,718.10 L1129.13,717.90 L1127.67,715.56 L1126.16,713.88Z" fill="#262626" stroke="#262626" stroke-width="0.35" stroke-linejoin="round" opacity="0.5"/>
<path d="M1025.00,728.01 L1025.01,731.49 L1025.03,735.86 L1025.04,740.99 L1025.06,746.75 L1025.08,753.00 L1025.10,759.63 L1025.12,766.50 L1025.15,773.49 L1025.18,780.46 L1025.22,787.29 L1025.26,793.85 L1025.30,800.01 L1025.34,806.62 L1025.39,813.47 L1025.44,820.47 L1025.50,827.51 L1025.57,834.51 L1025.63,841.36 L1025.70,847.96 L1025.76,854.23 L1025.81,860.06 L1025.86,865.35 L1025.90,870.02 L1025.97,879.83 L1026.00,886.40 L1026.01,891.02 L1026.00,895.01 L1026.47,900.56 L1026.90,902.99 L1028.90,903.01 L1029.37,900.56 L1029.80,894.99 L1029.71,890.98 L1029.60,886.35 L1029.47,879.79 L1029.30,869.98 L1029.23,865.31 L1029.14,860.02 L1029.05,854.19 L1028.95,847.92 L1028.85,841.32 L1028.75,834.47 L1028.65,827.48 L1028.55,820.44 L1028.46,813.44 L1028.37,806.59 L1028.30,799.99 L1028.26,793.83 L1028.22,787.27 L1028.18,780.45 L1028.15,773.48 L1028.12,766.49 L1028.10,759.62 L1028.08,752.99 L1028.06,746.74 L1028.04,740.98 L1028.03,735.85 L1028.01,731.48 L1028.00,727.99Z" fill="#262626" stroke="#262626" stroke-width="0.35" stroke-linejoin="round" opacity="1"/>
<path d="M1037.68,892.16 L1041.83,893.39 L1047.17,896.13 L1052.48,901.53 L1057.64,908.84 L1060.39,914.54 L1062.89,921.05 L1065.43,927.65 L1068.22,934.02 L1070.98,940.31 L1073.39,946.56 L1075.40,952.94 L1077.08,959.34 L1078.44,965.36 L1079.79,970.77 L1080.50,980.08 L1080.61,984.72 L1080.68,990.47 L1080.71,996.97 L1080.70,1003.93 L1080.66,1011.02 L1080.60,1017.92 L1080.51,1024.34 L1080.40,1029.96 L1080.13,1037.55 L1079.74,1044.20 L1079.31,1050.26 L1078.91,1056.07 L1078.60,1061.95 L1078.34,1069.43 L1078.16,1076.72 L1078.08,1083.64 L1078.10,1090.01 L1078.27,1097.29 L1078.62,1103.69 L1079.21,1110.09 L1080.15,1116.79 L1081.32,1123.45 L1082.25,1130.09 L1082.83,1136.53 L1083.18,1142.99 L1083.25,1150.00 L1083.10,1155.99 L1082.78,1162.46 L1082.33,1168.92 L1081.75,1174.91 L1080.80,1182.30 L1079.62,1189.11 L1078.29,1194.77 L1075.99,1200.54 L1073.40,1204.55 L1070.72,1207.53 L1067.47,1210.47 L1063.20,1215.11 L1058.54,1219.34 L1053.73,1221.69 L1048.97,1222.65 L1044.62,1221.98 L1040.41,1220.14 L1036.80,1218.09 L1032.80,1214.25 L1029.12,1209.68 L1024.97,1203.87 L1021.04,1197.41 L1018.38,1192.19 L1015.81,1186.51 L1013.39,1180.58 L1011.18,1174.58 L1009.15,1168.62 L1007.29,1162.59 L1005.65,1156.35 L1004.28,1149.76 L1003.40,1144.14 L1002.71,1138.23 L1002.16,1132.13 L1001.70,1125.99 L1001.30,1119.92 L1000.96,1113.94 L1000.72,1107.96 L1000.55,1101.97 L1000.42,1095.97 L1000.30,1089.97 L1000.16,1083.97 L1000.02,1077.98 L999.93,1071.99 L999.94,1066.02 L1000.10,1060.06 L1000.48,1054.10 L1001.04,1048.13 L1001.68,1042.14 L1002.33,1036.13 L1002.90,1030.11 L1003.35,1024.18 L1003.74,1018.33 L1004.12,1012.45 L1004.52,1006.42 L1005.00,1000.11 L1005.52,993.28 L1006.10,986.00 L1006.71,978.65 L1007.35,971.58 L1007.99,965.16 L1008.79,958.16 L1009.61,951.90 L1010.49,946.04 L1011.48,940.27 L1012.92,932.48 L1014.52,925.05 L1016.32,918.46 L1019.60,910.23 L1023.11,903.67 L1026.34,898.83 L1029.67,895.49 L1034.37,893.34 L1038.34,892.15 L1037.66,889.85 L1033.50,891.10 L1028.33,893.51 L1024.41,897.24 L1020.89,902.33 L1017.15,909.09 L1013.68,917.54 L1011.74,924.36 L1010.04,931.89 L1008.52,939.73 L1007.53,945.57 L1006.64,951.48 L1005.82,957.79 L1005.01,964.84 L1004.36,971.30 L1003.72,978.39 L1003.11,985.76 L1002.53,993.04 L1002.00,999.89 L1001.57,1006.22 L1001.20,1012.27 L1000.87,1018.15 L1000.51,1023.98 L1000.10,1029.89 L999.58,1035.87 L998.98,1041.86 L998.37,1047.87 L997.85,1053.90 L997.50,1059.94 L997.34,1065.98 L997.33,1072.01 L997.42,1078.02 L997.56,1084.03 L997.70,1090.03 L997.82,1096.03 L997.95,1102.03 L998.12,1108.04 L998.36,1114.06 L998.70,1120.08 L999.11,1126.17 L999.57,1132.35 L1000.12,1138.49 L1000.82,1144.50 L1001.72,1150.24 L1003.15,1156.95 L1004.84,1163.29 L1006.75,1169.40 L1008.82,1175.42 L1011.09,1181.48 L1013.56,1187.49 L1016.20,1193.25 L1018.96,1198.59 L1023.03,1205.16 L1027.32,1211.06 L1031.20,1215.75 L1035.57,1219.73 L1039.59,1221.86 L1044.13,1223.71 L1049.03,1224.35 L1054.27,1223.25 L1059.46,1220.66 L1064.30,1216.20 L1068.53,1211.53 L1071.78,1208.59 L1074.60,1205.45 L1077.33,1201.21 L1079.71,1195.23 L1081.09,1189.41 L1082.28,1182.52 L1083.25,1175.09 L1083.82,1169.05 L1084.28,1162.54 L1084.60,1156.04 L1084.75,1150.00 L1084.68,1142.94 L1084.32,1136.43 L1083.75,1129.91 L1082.83,1123.22 L1081.70,1116.55 L1080.79,1109.91 L1080.29,1103.57 L1080.00,1097.23 L1079.90,1089.99 L1079.97,1083.67 L1080.16,1076.78 L1080.44,1069.51 L1080.80,1062.05 L1081.18,1056.22 L1081.66,1050.44 L1082.18,1044.37 L1082.65,1037.68 L1083.00,1030.04 L1083.16,1024.40 L1083.30,1017.97 L1083.41,1011.05 L1083.50,1003.95 L1083.56,996.98 L1083.58,990.46 L1083.56,984.68 L1083.50,979.92 L1082.87,970.36 L1081.56,964.64 L1080.26,958.58 L1078.60,952.03 L1076.61,945.44 L1074.13,939.02 L1071.33,932.65 L1068.57,926.35 L1066.00,919.84 L1063.39,913.23 L1060.36,907.16 L1054.77,899.59 L1048.83,893.87 L1042.80,890.98 L1038.32,889.84Z" fill="#262626" stroke="#262626" stroke-width="0.35" stroke-linejoin="round" opacity="1"/>
<path d="M1032.50,1218.73 L1032.57,1223.93 L1032.73,1231.50 L1032.90,1240.04 L1032.99,1245.21 L1033.08,1250.61 L1033.17,1256.42 L1033.28,1262.83 L1033.40,1270.04 L1033.56,1276.03 L1033.74,1282.80 L1033.92,1290.03 L1034.11,1297.38 L1034.29,1304.50 L1034.45,1311.07 L1034.60,1316.74 L1034.88,1325.06 L1035.13,1332.06 L1035.34,1337.60 L1035.50,1341.54 L1038.10,1341.46 L1038.04,1337.52 L1037.92,1331.98 L1037.78,1324.98 L1037.60,1316.66 L1037.45,1310.99 L1037.28,1304.43 L1037.10,1297.30 L1036.92,1289.96 L1036.74,1282.73 L1036.56,1275.95 L1036.40,1269.96 L1036.12,1262.75 L1035.85,1256.34 L1035.60,1250.53 L1035.35,1245.14 L1035.10,1239.96 L1034.66,1231.43 L1034.24,1223.87 L1033.90,1218.67Z" fill="#262626" stroke="#262626" stroke-width="0.35" stroke-linejoin="round" opacity="1"/>
<path d="M1036.92,1340.00 L1032.87,1340.20 L1027.25,1340.49 L1020.61,1340.85 L1013.47,1341.23 L1006.39,1341.63 L999.90,1342.00 L992.63,1342.48 L985.34,1342.97 L978.17,1343.47 L971.29,1343.98 L964.87,1344.51 L957.06,1345.35 L949.52,1346.26 L943.09,1347.10 L938.58,1347.71 L938.82,1349.89 L943.36,1349.48 L949.81,1348.85 L957.34,1348.14 L965.13,1347.49 L971.53,1346.97 L978.39,1346.46 L985.54,1345.96 L992.83,1345.47 L1000.10,1345.00 L1006.57,1344.55 L1013.64,1344.09 L1020.77,1343.64 L1027.41,1343.22 L1033.03,1342.87 L1037.08,1342.60Z" fill="#262626" stroke="#262626" stroke-width="0.35" stroke-linejoin="round" opacity="1"/>
<path d="M795.81,810.75 L799.47,810.71 L804.29,810.64 L810.02,810.55 L816.41,810.44 L823.24,810.31 L830.25,810.18 L837.22,810.03 L843.89,809.89 L850.03,809.75 L856.65,809.55 L863.41,809.32 L870.19,809.07 L876.86,808.82 L883.30,808.58 L889.40,808.36 L895.01,808.16 L900.03,808.00 L908.23,807.70 L914.61,807.51 L919.94,807.36 L925.03,807.20 L934.93,806.56 L941.71,806.00 L941.69,805.60 L934.90,805.46 L924.97,805.40 L919.90,805.51 L914.56,805.61 L908.17,805.75 L899.97,806.00 L894.94,806.22 L889.32,806.48 L883.23,806.77 L876.79,807.08 L870.12,807.39 L863.35,807.69 L856.59,807.98 L849.97,808.25 L843.84,808.50 L837.18,808.76 L830.22,809.01 L823.21,809.26 L816.39,809.49 L810.00,809.71 L804.27,809.92 L799.46,810.10 L795.79,810.25Z" fill="#262626" stroke="#262626" stroke-width="0.35" stroke-linejoin="round" opacity="1"/>
<path d="M782.85,850.80 L782.86,854.12 L782.88,857.98 L782.90,862.33 L782.93,867.14 L782.97,872.37 L783.01,877.98 L783.05,883.92 L783.09,890.16 L783.14,896.66 L783.18,903.37 L783.22,910.26 L783.26,917.28 L783.30,924.40 L783.33,931.57 L783.36,938.76 L783.38,945.92 L783.40,953.01 L783.40,960.00 L783.40,965.47 L783.40,971.02 L783.40,976.67 L783.39,982.40 L783.38,988.20 L783.36,994.07 L783.35,1000.02 L783.33,1006.02 L783.31,1012.08 L783.29,1018.19 L783.26,1024.35 L783.24,1030.55 L783.21,1036.79 L783.18,1043.05 L783.16,1049.35 L783.13,1055.66 L783.10,1061.99 L783.07,1068.33 L783.05,1074.67 L783.02,1081.02 L783.00,1087.36 L782.97,1093.68 L782.95,1100.00 L782.94,1105.87 L782.94,1111.87 L782.93,1117.98 L782.92,1124.19 L782.91,1130.48 L782.90,1136.84 L782.89,1143.25 L782.88,1149.70 L782.87,1156.16 L782.86,1162.64 L782.85,1169.10 L782.84,1175.54 L782.83,1181.94 L782.82,1188.29 L782.81,1194.56 L782.80,1200.74 L782.80,1206.83 L782.79,1212.80 L782.78,1218.63 L782.77,1224.32 L782.77,1229.84 L782.76,1235.19 L782.76,1240.34 L782.75,1245.28 L782.75,1250.00 L782.77,1258.61 L782.79,1266.76 L782.81,1274.47 L782.84,1281.74 L782.86,1288.60 L782.89,1295.05 L782.92,1301.11 L782.95,1306.79 L782.98,1312.10 L783.01,1317.07 L783.04,1321.70 L783.07,1326.00 L783.10,1330.00 L783.20,1341.85 L783.30,1347.04 L783.40,1350.00 L784.00,1350.00 L784.10,1347.04 L784.20,1341.85 L784.30,1330.00 L784.33,1326.00 L784.35,1321.70 L784.37,1317.07 L784.40,1312.10 L784.42,1306.79 L784.44,1301.11 L784.47,1295.05 L784.49,1288.60 L784.52,1281.74 L784.55,1274.47 L784.58,1266.76 L784.61,1258.61 L784.65,1250.00 L784.66,1245.28 L784.67,1240.34 L784.68,1235.19 L784.70,1229.85 L784.71,1224.32 L784.73,1218.63 L784.74,1212.80 L784.76,1206.83 L784.78,1200.75 L784.79,1194.56 L784.81,1188.29 L784.83,1181.95 L784.85,1175.55 L784.86,1169.11 L784.88,1162.64 L784.90,1156.17 L784.92,1149.70 L784.94,1143.25 L784.95,1136.84 L784.97,1130.48 L784.99,1124.19 L785.00,1117.98 L785.02,1111.87 L785.04,1105.87 L785.05,1100.00 L785.05,1093.69 L785.05,1087.36 L785.06,1081.02 L785.06,1074.68 L785.07,1068.33 L785.07,1061.99 L785.08,1055.67 L785.08,1049.35 L785.09,1043.06 L785.09,1036.79 L785.10,1030.56 L785.10,1024.36 L785.10,1018.20 L785.10,1012.09 L785.10,1006.02 L785.10,1000.02 L785.09,994.08 L785.09,988.20 L785.08,982.40 L785.06,976.67 L785.04,971.02 L785.02,965.46 L785.00,960.00 L784.96,953.01 L784.90,945.91 L784.84,938.75 L784.78,931.56 L784.71,924.39 L784.63,917.27 L784.55,910.24 L784.47,903.36 L784.39,896.64 L784.30,890.15 L784.22,883.91 L784.14,877.96 L784.06,872.36 L783.99,867.13 L783.92,862.32 L783.86,857.97 L783.80,854.11 L783.75,850.80Z" fill="#262626" stroke="#262626" stroke-width="0.35" stroke-linejoin="round" opacity="1"/>
<path d="M783.40,1350.00 L783.50,1359.00 L783.60,1368.00 L783.80,1368.00 L783.90,1359.00 L784.00,1350.00Z" fill="#262626" stroke="#262626" stroke-width="0.35" stroke-linejoin="round" opacity="0.4"/>
<path d="M937.90,831.72 L937.92,833.58 L937.98,835.49 L938.06,842.59 L938.15,860.01 L938.17,863.85 L938.19,868.16 L938.21,872.91 L938.23,878.05 L938.24,883.56 L938.26,889.40 L938.28,895.54 L938.30,901.93 L938.32,908.54 L938.34,915.35 L938.37,922.31 L938.39,929.38 L938.41,936.55 L938.43,943.76 L938.45,950.98 L938.47,958.18 L938.50,965.33 L938.52,972.38 L938.54,979.31 L938.57,986.08 L938.59,992.65 L938.62,998.99 L938.64,1005.07 L938.67,1010.84 L938.70,1016.28 L938.72,1021.35 L938.75,1026.01 L938.79,1035.43 L938.84,1043.79 L938.90,1051.24 L938.96,1057.90 L939.01,1063.93 L939.08,1069.45 L939.14,1074.62 L939.19,1079.57 L939.25,1084.45 L939.31,1089.38 L939.36,1094.53 L939.40,1100.01 L939.45,1106.83 L939.50,1113.58 L939.55,1120.23 L939.59,1126.78 L939.64,1133.20 L939.67,1139.50 L939.70,1145.64 L939.72,1151.61 L939.72,1157.41 L939.70,1163.00 L939.68,1170.44 L939.63,1177.21 L939.57,1183.57 L939.48,1189.77 L939.37,1196.07 L939.24,1202.72 L939.10,1209.97 L939.04,1215.51 L938.96,1221.36 L938.87,1227.45 L938.77,1233.70 L938.67,1240.03 L938.56,1246.35 L938.44,1252.58 L938.33,1258.65 L938.21,1264.47 L938.10,1269.96 L937.95,1277.38 L937.78,1284.50 L937.61,1291.33 L937.44,1297.89 L937.28,1304.17 L937.13,1310.20 L937.00,1315.97 L936.83,1323.73 L936.68,1331.07 L936.56,1337.84 L936.45,1343.87 L936.35,1348.97 L936.22,1357.54 L936.20,1361.98 L936.80,1362.02 L937.27,1357.59 L937.85,1349.03 L938.05,1343.91 L938.26,1337.89 L938.48,1331.12 L938.73,1323.78 L939.00,1316.03 L939.24,1310.27 L939.50,1304.25 L939.78,1297.97 L940.07,1291.42 L940.35,1284.58 L940.63,1277.46 L940.90,1270.04 L941.07,1264.54 L941.25,1258.72 L941.42,1252.65 L941.60,1246.42 L941.77,1240.10 L941.93,1233.77 L942.09,1227.52 L942.24,1221.42 L942.38,1215.57 L942.50,1210.03 L942.59,1202.77 L942.65,1196.11 L942.71,1189.81 L942.74,1183.59 L942.75,1177.22 L942.74,1170.44 L942.70,1163.00 L942.64,1157.39 L942.56,1151.59 L942.46,1145.61 L942.35,1139.46 L942.24,1133.17 L942.11,1126.74 L941.99,1120.20 L941.86,1113.54 L941.73,1106.80 L941.60,1099.99 L941.50,1094.50 L941.39,1089.35 L941.28,1084.41 L941.16,1079.54 L941.04,1074.59 L940.92,1069.42 L940.81,1063.90 L940.69,1057.88 L940.57,1051.22 L940.46,1043.78 L940.35,1035.42 L940.25,1025.99 L940.22,1021.34 L940.18,1016.27 L940.15,1010.83 L940.11,1005.06 L940.08,998.99 L940.05,992.65 L940.02,986.08 L939.98,979.31 L939.95,972.38 L939.92,965.32 L939.89,958.18 L939.86,950.97 L939.83,943.75 L939.80,936.54 L939.78,929.38 L939.75,922.30 L939.72,915.34 L939.69,908.54 L939.66,901.92 L939.64,895.53 L939.61,889.40 L939.58,883.56 L939.55,878.05 L939.53,872.90 L939.50,868.15 L939.48,863.84 L939.45,859.99 L939.24,842.57 L939.03,835.46 L938.85,833.53 L938.70,831.68Z" fill="#262626" stroke="#262626" stroke-width="0.35" stroke-linejoin="round" opacity="1"/>
<path d="M819.21,1381.20 L823.05,1381.26 L828.08,1381.34 L834.06,1381.42 L840.75,1381.47 L847.94,1381.48 L855.37,1381.44 L862.83,1381.31 L870.07,1381.10 L876.09,1380.66 L882.72,1380.12 L889.74,1379.50 L896.94,1378.83 L904.11,1378.13 L911.02,1377.45 L917.46,1376.79 L923.20,1376.20 L928.04,1375.69 L931.75,1375.30 L931.65,1374.10 L927.92,1374.35 L923.07,1374.72 L917.31,1375.18 L910.86,1375.69 L903.94,1376.24 L896.77,1376.79 L889.56,1377.32 L882.54,1377.80 L875.92,1378.21 L869.93,1378.50 L862.74,1378.94 L855.31,1379.29 L847.90,1379.56 L840.73,1379.77 L834.04,1379.94 L828.07,1380.09 L823.04,1380.24 L819.19,1380.40Z" fill="#262626" stroke="#262626" stroke-width="0.35" stroke-linejoin="round" opacity="1"/>
<path d="M786.91,804.66 L792.07,812.59 L799.82,821.17 L800.78,820.43 L794.45,810.75 L788.09,803.74Z" fill="#262626" stroke="#262626" stroke-width="0.35" stroke-linejoin="round" opacity="1"/>
<path d="M783.88,814.59 L785.82,816.82 L788.95,818.61 L789.45,817.99 L787.08,815.27 L784.52,813.81Z" fill="#262626" stroke="#262626" stroke-width="0.35" stroke-linejoin="round" opacity="1"/>
<path d="M779.93,821.06 L781.68,824.33 L784.71,827.71 L785.29,827.29 L783.15,823.30 L780.67,820.54Z" fill="#262626" stroke="#262626" stroke-width="0.35" stroke-linejoin="round" opacity="1"/>
<path d="M783.07,833.39 L783.74,835.74 L785.11,838.37 L785.49,838.23 L784.66,835.36 L783.53,833.21Z" fill="#262626" stroke="#262626" stroke-width="0.35" stroke-linejoin="round" opacity="0.7"/>
<path d="M928.89,795.04 L920.85,804.01 L911.75,815.59 L912.25,816.01 L922.07,805.04 L929.51,795.56Z" fill="#262626" stroke="#262626" stroke-width="0.35" stroke-linejoin="round" opacity="1"/>
<path d="M939.38,799.75 L932.09,808.51 L923.95,819.80 L924.45,820.20 L933.36,809.49 L940.02,800.25Z" fill="#262626" stroke="#262626" stroke-width="0.35" stroke-linejoin="round" opacity="1"/>
<path d="M938.95,810.63 L933.74,817.99 L929.11,826.60 L942.15,819.69 L937.13,831.55 L937.87,831.85 L942.85,818.71 L929.29,825.00 L934.66,818.61 L939.45,810.97Z" fill="#262626" stroke="#262626" stroke-width="0.35" stroke-linejoin="round" opacity="1"/>
<path d="M800.49,1352.82 L795.63,1360.18 L790.77,1367.55 L785.42,1376.91 L780.08,1386.27 L781.52,1387.13 L787.18,1377.95 L792.83,1368.78 L796.97,1360.98 L801.11,1353.18Z" fill="#262626" stroke="#262626" stroke-width="0.35" stroke-linejoin="round" opacity="1"/>
<path d="M805.49,1370.47 L796.41,1378.43 L786.05,1388.94 L786.55,1389.46 L797.64,1379.73 L806.11,1371.13Z" fill="#262626" stroke="#262626" stroke-width="0.35" stroke-linejoin="round" opacity="1"/>
<path d="M805.36,1370.57 L800.41,1378.98 L795.45,1389.82 L796.15,1390.18 L802.19,1379.90 L806.24,1371.03Z" fill="#262626" stroke="#262626" stroke-width="0.35" stroke-linejoin="round" opacity="1"/>
<path d="M927.78,1365.09 L934.42,1374.98 L943.78,1386.11 L944.62,1385.49 L936.49,1373.41 L928.82,1364.31Z" fill="#262626" stroke="#262626" stroke-width="0.35" stroke-linejoin="round" opacity="1"/>
<path d="M934.86,1361.93 L936.53,1366.25 L939.64,1370.98 L940.36,1370.62 L938.30,1365.34 L935.74,1361.47Z" fill="#262626" stroke="#262626" stroke-width="0.35" stroke-linejoin="round" opacity="1"/>
<path d="M943.98,1367.61 L944.47,1369.20 L945.62,1370.89 L945.98,1370.71 L945.37,1368.77 L944.42,1367.39Z" fill="#262626" stroke="#262626" stroke-width="0.35" stroke-linejoin="round" opacity="0.7"/>
<path d="M948.11,1365.96 L949.81,1368.37 L952.35,1370.93 L952.65,1370.67 L950.57,1367.73 L948.49,1365.64Z" fill="#262626" stroke="#262626" stroke-width="0.35" stroke-linejoin="round" opacity="0.6"/>
<path d="M216.80,1349.40 L220.13,1349.41 L224.03,1349.43 L228.45,1349.44 L233.36,1349.46 L238.70,1349.47 L244.42,1349.49 L250.47,1349.51 L256.82,1349.53 L263.42,1349.55 L270.21,1349.57 L277.15,1349.59 L284.19,1349.61 L291.29,1349.63 L298.40,1349.65 L305.47,1349.67 L312.46,1349.69 L319.32,1349.71 L326.00,1349.73 L332.45,1349.75 L338.64,1349.77 L344.50,1349.78 L350.00,1349.80 L357.22,1349.83 L364.29,1349.85 L371.23,1349.88 L378.04,1349.90 L384.71,1349.93 L391.25,1349.95 L397.66,1349.97 L403.95,1349.99 L410.11,1350.02 L416.15,1350.04 L422.08,1350.06 L427.89,1350.09 L433.58,1350.11 L439.16,1350.14 L444.63,1350.17 L450.00,1350.20 L457.52,1350.27 L464.68,1350.34 L471.52,1350.40 L478.08,1350.47 L484.41,1350.54 L490.54,1350.61 L496.54,1350.69 L502.43,1350.78 L508.27,1350.87 L514.11,1350.98 L519.98,1351.10 L526.33,1351.22 L532.45,1351.35 L538.39,1351.49 L544.20,1351.64 L549.96,1351.80 L555.72,1351.97 L561.54,1352.14 L567.48,1352.32 L573.60,1352.51 L579.95,1352.70 L585.94,1352.83 L592.07,1352.97 L598.32,1353.12 L604.67,1353.28 L611.09,1353.44 L617.57,1353.61 L624.08,1353.77 L630.60,1353.92 L637.10,1354.06 L643.57,1354.19 L649.97,1354.30 L656.34,1354.39 L662.72,1354.47 L669.09,1354.54 L675.47,1354.60 L681.85,1354.65 L688.22,1354.70 L694.59,1354.74 L700.95,1354.78 L707.31,1354.82 L713.65,1354.86 L719.99,1354.90 L726.57,1354.99 L733.56,1355.09 L740.79,1355.18 L748.12,1355.28 L755.40,1355.37 L762.46,1355.46 L769.15,1355.54 L775.33,1355.62 L780.83,1355.69 L785.50,1355.75 L789.19,1355.80 L789.21,1353.80 L785.52,1353.77 L780.85,1353.72 L775.35,1353.67 L769.18,1353.61 L762.48,1353.55 L755.42,1353.48 L748.14,1353.40 L740.81,1353.33 L733.58,1353.25 L726.59,1353.17 L720.01,1353.10 L713.68,1352.98 L707.33,1352.87 L700.98,1352.76 L694.62,1352.65 L688.25,1352.53 L681.88,1352.42 L675.50,1352.29 L669.13,1352.16 L662.76,1352.02 L656.39,1351.87 L650.03,1351.70 L643.63,1351.52 L637.17,1351.32 L630.68,1351.10 L624.17,1350.88 L617.66,1350.64 L611.19,1350.41 L604.77,1350.17 L598.42,1349.94 L592.17,1349.71 L586.03,1349.50 L580.05,1349.30 L573.68,1349.15 L567.56,1349.01 L561.62,1348.86 L555.80,1348.73 L550.04,1348.60 L544.28,1348.48 L538.45,1348.37 L532.51,1348.27 L526.39,1348.18 L520.02,1348.10 L514.14,1348.07 L508.30,1348.05 L502.45,1348.05 L496.55,1348.05 L490.55,1348.07 L484.42,1348.08 L478.09,1348.11 L471.53,1348.13 L464.69,1348.16 L457.53,1348.18 L450.00,1348.20 L444.64,1348.19 L439.17,1348.19 L433.58,1348.19 L427.89,1348.19 L422.08,1348.19 L416.16,1348.19 L410.12,1348.19 L403.95,1348.19 L397.66,1348.20 L391.25,1348.20 L384.71,1348.20 L378.04,1348.20 L371.23,1348.20 L364.30,1348.20 L357.22,1348.20 L350.00,1348.20 L344.50,1348.19 L338.64,1348.18 L332.46,1348.18 L326.00,1348.17 L319.32,1348.16 L312.47,1348.14 L305.48,1348.13 L298.41,1348.12 L291.30,1348.11 L284.20,1348.10 L277.15,1348.09 L270.21,1348.08 L263.42,1348.07 L256.83,1348.05 L250.48,1348.04 L244.42,1348.04 L238.70,1348.03 L233.36,1348.02 L228.46,1348.01 L224.03,1348.01 L220.13,1348.00 L216.80,1348.00Z" fill="#262626" stroke="#262626" stroke-width="0.35" stroke-linejoin="round" opacity="1"/>
<path d="M58.01,860.85 L61.74,860.96 L66.72,861.04 L72.66,861.10 L79.26,861.14 L86.22,861.17 L93.25,861.21 L100.04,861.25 L105.94,861.11 L112.09,860.96 L118.42,860.82 L124.85,860.67 L131.30,860.52 L137.70,860.38 L143.97,860.23 L150.03,860.10 L157.11,859.78 L164.56,859.46 L172.02,859.14 L179.14,858.83 L185.58,858.53 L190.99,858.25 L195.01,858.00 L194.99,857.20 L190.97,857.11 L185.55,857.04 L179.11,857.00 L171.98,856.97 L164.51,856.95 L157.06,856.92 L149.97,856.90 L143.90,857.02 L137.63,857.15 L131.23,857.28 L124.78,857.42 L118.35,857.56 L112.02,857.69 L105.86,857.82 L99.96,857.95 L93.18,858.31 L86.16,858.67 L79.21,859.04 L72.62,859.40 L66.69,859.74 L61.72,860.06 L57.99,860.35Z" fill="#262626" stroke="#262626" stroke-width="0.35" stroke-linejoin="round" opacity="1"/>
<path d="M51.35,903.07 L51.67,907.84 L52.19,914.65 L52.77,922.43 L53.30,930.11 L53.76,935.30 L54.24,939.94 L54.70,945.06 L55.10,951.73 L55.40,961.04 L55.49,965.47 L55.56,970.32 L55.62,975.54 L55.66,981.09 L55.68,986.94 L55.71,993.05 L55.72,999.38 L55.73,1005.90 L55.74,1012.57 L55.74,1019.36 L55.76,1026.21 L55.77,1033.11 L55.80,1040.01 L55.84,1045.74 L55.87,1051.74 L55.90,1057.96 L55.92,1064.35 L55.95,1070.88 L55.97,1077.50 L56.00,1084.19 L56.03,1090.88 L56.05,1097.55 L56.09,1104.15 L56.12,1110.64 L56.17,1116.98 L56.21,1123.13 L56.27,1129.04 L56.33,1134.69 L56.40,1140.02 L56.56,1147.94 L56.75,1155.27 L56.95,1162.11 L57.17,1168.56 L57.39,1174.72 L57.62,1180.72 L57.85,1186.64 L58.08,1192.59 L58.30,1198.69 L58.50,1205.02 L58.68,1211.46 L58.86,1217.78 L59.03,1224.05 L59.20,1230.30 L59.37,1236.58 L59.53,1242.94 L59.69,1249.41 L59.85,1256.06 L60.00,1262.91 L60.15,1270.01 L60.29,1275.89 L60.42,1282.29 L60.56,1289.08 L60.69,1296.14 L60.82,1303.32 L60.95,1310.51 L61.07,1317.57 L61.19,1324.38 L61.31,1330.80 L61.42,1336.70 L61.52,1341.95 L61.61,1346.43 L61.70,1350.00 L62.10,1350.00 L62.10,1346.42 L62.09,1341.94 L62.07,1336.69 L62.05,1330.79 L62.02,1324.37 L61.98,1317.56 L61.94,1310.50 L61.90,1303.31 L61.85,1296.12 L61.80,1289.07 L61.75,1282.27 L61.70,1275.87 L61.65,1269.99 L61.55,1262.88 L61.45,1256.02 L61.34,1249.38 L61.23,1242.90 L61.12,1236.54 L61.00,1230.26 L60.88,1224.01 L60.76,1217.74 L60.63,1211.41 L60.50,1204.98 L60.38,1198.63 L60.24,1192.53 L60.09,1186.57 L59.94,1180.64 L59.79,1174.65 L59.65,1168.48 L59.51,1162.04 L59.39,1155.21 L59.28,1147.89 L59.20,1139.98 L59.14,1134.66 L59.09,1129.02 L59.05,1123.11 L59.02,1116.96 L58.99,1110.62 L58.96,1104.13 L58.94,1097.54 L58.92,1090.87 L58.91,1084.18 L58.90,1077.50 L58.88,1070.87 L58.87,1064.34 L58.86,1057.95 L58.84,1051.73 L58.82,1045.73 L58.80,1039.99 L58.76,1033.10 L58.73,1026.20 L58.70,1019.35 L58.67,1012.57 L58.65,1005.90 L58.63,999.38 L58.60,993.04 L58.56,986.93 L58.52,981.07 L58.46,975.51 L58.39,970.28 L58.30,965.42 L58.20,960.96 L57.82,951.60 L57.33,944.85 L56.79,939.68 L56.23,935.05 L55.70,929.89 L54.93,922.24 L54.13,914.47 L53.39,907.68 L52.85,902.93Z" fill="#262626" stroke="#262626" stroke-width="0.35" stroke-linejoin="round" opacity="1"/>
<path d="M60.25,953.00 L60.20,956.50 L60.14,960.75 L60.09,965.65 L60.03,971.14 L59.98,977.12 L59.92,983.51 L59.86,990.25 L59.80,997.24 L59.74,1004.40 L59.68,1011.66 L59.61,1018.93 L59.54,1026.13 L59.47,1033.18 L59.40,1040.00 L59.43,1046.07 L59.45,1052.56 L59.46,1059.37 L59.48,1066.42 L59.49,1073.64 L59.50,1080.94 L59.50,1088.23 L59.51,1095.43 L59.52,1102.47 L59.53,1109.25 L59.54,1115.70 L59.55,1121.72 L59.57,1127.25 L59.59,1132.19 L59.62,1136.47 L59.65,1140.00 L60.15,1140.00 L60.22,1136.47 L60.31,1132.20 L60.39,1127.26 L60.48,1121.73 L60.57,1115.70 L60.67,1109.26 L60.76,1102.48 L60.86,1095.44 L60.96,1088.24 L61.06,1080.95 L61.16,1073.65 L61.25,1066.43 L61.34,1059.38 L61.43,1052.57 L61.52,1046.08 L61.60,1040.00 L61.58,1033.18 L61.56,1026.13 L61.53,1018.93 L61.51,1011.66 L61.48,1004.40 L61.45,997.24 L61.41,990.25 L61.38,983.52 L61.34,977.12 L61.30,971.14 L61.27,965.65 L61.23,960.75 L61.19,956.51 L61.15,953.00Z" fill="#262626" stroke="#262626" stroke-width="0.35" stroke-linejoin="round" opacity="0.95"/>
<path d="M55.25,1140.00 L55.14,1143.85 L55.01,1148.80 L54.85,1154.65 L54.68,1161.22 L54.50,1168.31 L54.31,1175.73 L54.12,1183.30 L53.94,1190.82 L53.76,1198.12 L53.60,1204.99 L53.50,1211.26 L53.40,1217.96 L53.29,1224.93 L53.19,1232.03 L53.09,1239.09 L52.99,1245.96 L52.90,1252.48 L52.82,1258.50 L52.75,1263.87 L52.69,1268.42 L52.65,1272.00 L52.95,1272.00 L53.04,1268.42 L53.14,1263.87 L53.25,1258.51 L53.38,1252.49 L53.52,1245.97 L53.66,1239.10 L53.81,1232.04 L53.96,1224.95 L54.11,1217.97 L54.26,1211.27 L54.40,1205.01 L54.51,1198.13 L54.64,1190.84 L54.77,1183.31 L54.91,1175.74 L55.05,1168.32 L55.18,1161.23 L55.30,1154.66 L55.41,1148.81 L55.49,1143.86 L55.55,1140.00Z" fill="#262626" stroke="#262626" stroke-width="0.35" stroke-linejoin="round" opacity="0.5"/>
<path d="M220.21,874.07 L221.36,879.41 L223.02,887.09 L224.51,895.09 L225.34,900.59 L226.05,906.13 L226.71,912.15 L227.35,919.06 L227.79,924.37 L228.23,930.20 L228.65,936.36 L229.05,942.68 L229.40,948.96 L229.70,955.04 L229.99,961.70 L230.21,967.90 L230.37,974.27 L230.48,981.43 L230.55,990.01 L230.57,995.08 L230.58,1000.72 L230.57,1006.79 L230.55,1013.16 L230.52,1019.68 L230.48,1026.23 L230.43,1032.68 L230.39,1038.87 L230.34,1044.69 L230.30,1049.99 L230.24,1057.70 L230.18,1064.44 L230.11,1070.61 L230.02,1076.65 L229.90,1082.97 L229.75,1089.98 L229.59,1095.72 L229.42,1101.70 L229.22,1107.85 L229.01,1114.15 L228.79,1120.55 L228.56,1127.02 L228.33,1133.50 L228.10,1139.96 L227.86,1146.41 L227.62,1152.90 L227.36,1159.43 L227.11,1166.02 L226.84,1172.65 L226.57,1179.35 L226.29,1186.11 L226.00,1192.95 L225.74,1199.16 L225.47,1205.55 L225.19,1212.05 L224.91,1218.60 L224.62,1225.14 L224.33,1231.60 L224.05,1237.93 L223.77,1244.06 L223.50,1249.93 L223.20,1257.18 L222.90,1264.20 L222.60,1270.99 L222.31,1277.57 L222.04,1283.91 L221.76,1290.04 L221.50,1295.93 L221.26,1303.61 L221.03,1310.64 L220.82,1317.33 L220.61,1324.00 L220.40,1330.96 L220.18,1337.45 L219.94,1344.53 L219.69,1351.66 L219.47,1358.31 L219.30,1363.93 L219.20,1367.99 L219.80,1368.01 L220.07,1363.97 L220.41,1358.35 L220.79,1351.71 L221.20,1344.58 L221.61,1337.51 L222.00,1331.04 L222.45,1324.09 L222.90,1317.44 L223.35,1310.75 L223.81,1303.73 L224.30,1296.07 L224.59,1290.17 L224.89,1284.05 L225.20,1277.70 L225.51,1271.13 L225.84,1264.33 L226.17,1257.31 L226.50,1250.07 L226.74,1244.19 L227.00,1238.06 L227.26,1231.73 L227.53,1225.26 L227.79,1218.72 L228.06,1212.17 L228.32,1205.67 L228.56,1199.27 L228.80,1193.05 L229.04,1186.22 L229.27,1179.45 L229.49,1172.75 L229.71,1166.11 L229.91,1159.52 L230.11,1152.99 L230.31,1146.50 L230.50,1140.04 L230.69,1133.58 L230.89,1127.09 L231.08,1120.63 L231.26,1114.22 L231.43,1107.92 L231.59,1101.76 L231.73,1095.78 L231.85,1090.02 L231.99,1083.01 L232.09,1076.68 L232.16,1070.64 L232.21,1064.45 L232.25,1057.72 L232.30,1050.01 L232.33,1044.70 L232.37,1038.89 L232.40,1032.69 L232.44,1026.25 L232.47,1019.69 L232.49,1013.16 L232.50,1006.79 L232.50,1000.72 L232.48,995.07 L232.45,989.99 L232.32,981.40 L232.15,974.23 L231.93,967.84 L231.64,961.63 L231.30,954.96 L230.95,948.87 L230.54,942.58 L230.10,936.26 L229.62,930.10 L229.14,924.26 L228.65,918.94 L227.93,912.02 L227.20,905.99 L226.40,900.43 L225.49,894.91 L223.87,886.91 L222.08,879.25 L220.79,873.93Z" fill="#262626" stroke="#262626" stroke-width="0.35" stroke-linejoin="round" opacity="1"/>
<path d="M226.20,880.02 L226.56,883.90 L227.05,889.08 L227.64,895.25 L228.30,902.10 L229.00,909.31 L229.71,916.58 L230.41,923.60 L231.05,930.05 L231.89,937.33 L232.78,945.06 L233.70,952.85 L234.58,960.33 L235.39,967.11 L236.08,972.80 L236.60,977.01 L236.80,976.99 L236.38,972.76 L235.79,967.06 L235.08,960.28 L234.29,952.79 L233.48,944.98 L232.68,937.24 L231.95,929.95 L231.24,923.51 L230.48,916.50 L229.71,909.24 L228.95,902.03 L228.23,895.19 L227.58,889.03 L227.02,883.85 L226.60,879.98Z" fill="#262626" stroke="#262626" stroke-width="0.35" stroke-linejoin="round" opacity="0.6"/>
<path d="M222.85,884.02 L223.31,887.98 L223.95,893.47 L224.73,899.97 L225.56,906.93 L226.37,913.80 L227.10,920.05 L228.05,927.36 L229.03,935.04 L229.96,942.35 L230.77,948.58 L231.35,953.02 L231.65,952.98 L231.16,948.54 L230.46,942.29 L229.63,934.96 L228.74,927.28 L227.90,919.95 L227.08,913.71 L226.18,906.85 L225.27,899.90 L224.42,893.42 L223.69,887.93 L223.15,883.98Z" fill="#262626" stroke="#262626" stroke-width="0.35" stroke-linejoin="round" opacity="0.7"/>
<path d="M228.35,1139.99 L228.21,1143.53 L228.05,1147.81 L227.86,1152.77 L227.66,1158.31 L227.44,1164.36 L227.20,1170.83 L226.96,1177.63 L226.70,1184.68 L226.44,1191.89 L226.17,1199.19 L225.89,1206.49 L225.62,1213.70 L225.34,1220.74 L225.07,1227.52 L224.81,1233.96 L224.55,1239.98 L224.29,1246.72 L224.01,1253.66 L223.71,1260.72 L223.40,1267.84 L223.08,1274.93 L222.77,1281.92 L222.46,1288.73 L222.15,1295.29 L221.86,1301.52 L221.59,1307.33 L221.35,1312.67 L221.13,1317.44 L220.95,1321.57 L220.80,1324.99 L221.20,1325.01 L221.38,1321.59 L221.60,1317.46 L221.85,1312.69 L222.14,1307.36 L222.44,1301.54 L222.77,1295.32 L223.11,1288.77 L223.45,1281.96 L223.80,1274.97 L224.16,1267.87 L224.50,1260.76 L224.83,1253.69 L225.15,1246.75 L225.45,1240.02 L225.67,1234.00 L225.90,1227.55 L226.13,1220.76 L226.37,1213.72 L226.60,1206.51 L226.84,1199.22 L227.07,1191.92 L227.30,1184.70 L227.52,1177.65 L227.73,1170.84 L227.93,1164.38 L228.11,1158.33 L228.27,1152.78 L228.42,1147.82 L228.55,1143.54 L228.65,1140.01Z" fill="#262626" stroke="#262626" stroke-width="0.35" stroke-linejoin="round" opacity="0.6"/>
<path d="M86.41,1389.30 L90.38,1389.22 L95.58,1389.11 L101.77,1388.98 L108.68,1388.81 L116.06,1388.61 L123.65,1388.38 L131.18,1388.11 L138.41,1387.80 L145.07,1387.45 L151.59,1386.86 L158.47,1386.16 L165.50,1385.40 L172.48,1384.59 L179.19,1383.79 L185.44,1383.02 L191.01,1382.31 L195.71,1381.71 L199.33,1381.25 L199.27,1380.75 L195.64,1381.06 L190.92,1381.51 L185.33,1382.06 L179.07,1382.67 L172.34,1383.32 L165.36,1383.97 L158.32,1384.58 L151.45,1385.12 L144.93,1385.55 L138.31,1386.05 L131.10,1386.50 L123.58,1386.92 L116.01,1387.29 L108.64,1387.64 L101.73,1387.95 L95.55,1388.23 L90.35,1388.48 L86.39,1388.70Z" fill="#262626" stroke="#262626" stroke-width="0.35" stroke-linejoin="round" opacity="1"/>
<path d="M36.06,859.43 L45.26,867.34 L57.33,875.95 L57.87,875.25 L46.62,865.60 L36.74,858.57Z" fill="#262626" stroke="#262626" stroke-width="0.35" stroke-linejoin="round" opacity="1"/>
<path d="M37.25,891.15 L46.81,897.91 L59.32,904.84 L59.88,903.96 L48.19,895.71 L37.95,890.05Z" fill="#262626" stroke="#262626" stroke-width="0.35" stroke-linejoin="round" opacity="1"/>
<path d="M42.73,866.86 L36.61,877.91 L40.29,883.14 L40.71,882.86 L37.79,878.09 L43.27,867.14Z" fill="#262626" stroke="#262626" stroke-width="0.35" stroke-linejoin="round" opacity="0.85"/>
<path d="M45.81,899.06 L47.42,904.53 L49.85,911.05 L50.15,910.95 L48.18,904.27 L46.19,898.94Z" fill="#262626" stroke="#262626" stroke-width="0.35" stroke-linejoin="round" opacity="0.5"/>
<path d="M234.05,861.66 L227.50,867.57 L220.94,873.48 L214.38,879.39 L206.52,889.12 L207.48,890.08 L217.15,882.14 L223.02,875.54 L228.88,868.94 L234.75,862.34Z" fill="#262626" stroke="#262626" stroke-width="0.35" stroke-linejoin="round" opacity="1"/>
<path d="M207.73,851.47 L200.34,865.74 L203.16,868.37 L203.84,867.63 L202.26,866.26 L208.27,851.73Z" fill="#262626" stroke="#262626" stroke-width="0.35" stroke-linejoin="round" opacity="1"/>
<path d="M205.46,874.65 L212.64,869.77 L217.18,864.18 L216.82,863.82 L211.36,868.23 L204.54,873.35Z" fill="#262626" stroke="#262626" stroke-width="0.35" stroke-linejoin="round" opacity="1"/>
<path d="M223.86,849.85 L216.53,856.46 L207.89,864.88 L208.11,865.12 L217.07,857.04 L224.14,850.15Z" fill="#262626" stroke="#262626" stroke-width="0.35" stroke-linejoin="round" opacity="0.6"/>
<path d="M196.79,849.14 L197.03,849.95 L197.83,850.61 L198.17,850.39 L197.87,849.40 L197.21,848.86Z" fill="#262626" stroke="#262626" stroke-width="0.35" stroke-linejoin="round" opacity="0.6"/>
<path d="M69.93,1363.30 L68.40,1365.54 L66.96,1368.52 L67.24,1368.68 L69.10,1365.94 L70.27,1363.50Z" fill="#262626" stroke="#262626" stroke-width="0.35" stroke-linejoin="round" opacity="0.5"/>
<path d="M78.54,1366.26 L75.93,1370.43 L73.39,1375.89 L73.81,1376.11 L76.99,1371.01 L79.06,1366.54Z" fill="#262626" stroke="#262626" stroke-width="0.35" stroke-linejoin="round" opacity="0.8"/>
<path d="M88.63,1372.09 L83.46,1382.57 L78.17,1395.85 L78.83,1396.15 L85.64,1383.58 L90.37,1372.91Z" fill="#262626" stroke="#262626" stroke-width="0.35" stroke-linejoin="round" opacity="1"/>
<path d="M88.56,1372.69 L84.21,1378.34 L79.78,1385.85 L80.22,1386.15 L85.69,1379.36 L89.44,1373.31Z" fill="#262626" stroke="#262626" stroke-width="0.35" stroke-linejoin="round" opacity="1"/>
<path d="M197.28,1374.80 L205.56,1384.63 L216.22,1396.16 L216.58,1395.84 L206.45,1383.83 L197.72,1374.40Z" fill="#262626" stroke="#262626" stroke-width="0.35" stroke-linejoin="round" opacity="1"/>
<path d="M205.09,1375.85 L209.50,1381.95 L215.65,1388.80 L216.15,1388.40 L210.75,1380.95 L205.71,1375.35Z" fill="#262626" stroke="#262626" stroke-width="0.35" stroke-linejoin="round" opacity="1"/>
<path d="M208.55,1370.32 L213.15,1374.84 L219.62,1379.34 L220.18,1378.66 L214.55,1373.15 L209.25,1369.48Z" fill="#262626" stroke="#262626" stroke-width="0.35" stroke-linejoin="round" opacity="1"/>
<path d="M207.62,1365.74 L211.63,1367.37 L216.74,1368.79 L216.86,1368.41 L211.96,1366.42 L207.78,1365.26Z" fill="#262626" stroke="#262626" stroke-width="0.35" stroke-linejoin="round" opacity="0.7"/>
<circle cx="430.5" cy="846" r="2.0" fill="#262626"/>
<path d="M429.04,844.63 L428.44,846.11 L427.58,848.43 L426.86,852.26 L426.26,855.62 L428.74,856.38 L430.12,853.24 L431.62,849.57 L432.03,847.01 L432.16,845.37Z" fill="#262626" stroke="#262626" stroke-width="0.35" stroke-linejoin="round" opacity="1"/>
<path d="M425.90,855.04 L426.13,861.61 L426.50,870.07 L426.95,877.73 L427.61,885.17 L428.62,891.86 L429.83,898.27 L431.12,904.73 L432.65,911.36 L434.62,917.96 L436.53,925.31 L437.45,931.41 L438.22,938.28 L439.11,945.19 L440.19,952.26 L441.38,959.33 L442.65,965.36 L444.65,971.49 L446.94,975.76 L450.07,978.53 L452.56,979.87 L453.44,978.53 L451.43,976.92 L449.06,974.24 L447.16,970.49 L445.35,964.64 L444.14,958.82 L442.96,951.82 L441.89,944.81 L441.07,937.95 L440.36,931.04 L439.47,924.69 L437.41,917.16 L435.35,910.64 L433.86,904.14 L432.57,897.73 L431.38,891.39 L430.39,884.83 L429.65,877.52 L429.10,869.93 L428.72,861.51 L428.50,854.96Z" fill="#262626" stroke="#262626" stroke-width="0.35" stroke-linejoin="round" opacity="1"/>
<path d="M452.30,978.81 L451.01,981.11 L449.27,984.68 L447.58,989.04 L445.78,994.80 L443.76,1002.84 L441.86,1011.88 L440.88,1017.83 L440.07,1023.88 L439.35,1029.93 L438.66,1036.15 L438.05,1042.39 L437.60,1047.96 L437.21,1054.76 L437.20,1060.05 L437.63,1062.92 L438.44,1065.75 L440.07,1071.65 L441.10,1077.87 L439.54,1083.11 L437.61,1086.99 L439.79,1088.01 L441.61,1083.84 L443.10,1077.93 L441.92,1071.23 L440.16,1065.25 L439.28,1062.53 L438.80,1059.95 L438.71,1054.80 L439.00,1048.04 L439.41,1042.50 L439.99,1036.29 L440.65,1030.07 L441.36,1024.04 L442.17,1018.02 L443.14,1012.12 L445.12,1003.16 L447.22,995.20 L449.04,989.56 L450.73,985.32 L452.43,981.84 L453.70,979.59Z" fill="#262626" stroke="#262626" stroke-width="0.35" stroke-linejoin="round" opacity="1"/>
<path d="M447.31,995.95 L445.34,1003.30 L443.06,1012.91 L442.05,1018.86 L441.22,1024.90 L440.50,1030.95 L439.89,1036.84 L439.39,1042.75 L439.10,1048.99 L439.09,1056.19 L439.29,1063.72 L439.55,1070.03 L440.20,1076.34 L440.80,1080.03 L441.20,1079.97 L440.85,1076.28 L440.45,1069.97 L440.22,1063.69 L440.06,1056.18 L440.10,1049.01 L440.39,1042.81 L440.88,1036.94 L441.50,1031.05 L442.18,1025.02 L442.98,1019.00 L443.94,1013.09 L445.97,1003.45 L447.69,996.05Z" fill="#262626" stroke="#262626" stroke-width="0.35" stroke-linejoin="round" opacity="0.8"/>
<path d="M437.50,1087.40 L437.13,1090.22 L436.80,1093.95 L436.71,1097.32 L437.12,1101.47 L438.45,1107.80 L440.66,1114.30 L444.10,1119.14 L448.26,1122.51 L453.06,1124.01 L457.66,1123.72 L460.56,1120.86 L461.98,1118.12 L460.62,1117.28 L458.96,1119.50 L456.74,1121.28 L453.49,1121.24 L449.74,1119.89 L446.40,1117.05 L443.54,1112.90 L441.54,1106.95 L440.28,1100.93 L439.81,1097.15 L439.80,1094.05 L439.82,1090.38 L439.90,1087.60Z" fill="#262626" stroke="#262626" stroke-width="0.35" stroke-linejoin="round" opacity="1"/>
<path d="M461.13,1116.92 L459.93,1117.31 L457.60,1121.43 L455.70,1125.96 L453.25,1131.89 L450.50,1138.75 L447.71,1146.01 L445.16,1153.14 L443.21,1158.97 L441.28,1164.98 L439.38,1171.13 L437.55,1177.43 L435.79,1183.83 L434.13,1190.34 L432.80,1196.06 L431.56,1201.95 L430.38,1207.94 L429.24,1213.96 L428.14,1219.96 L427.03,1225.85 L425.92,1231.59 L424.58,1238.53 L423.16,1245.85 L421.76,1253.09 L420.47,1259.75 L419.39,1265.36 L418.62,1269.44 L420.18,1269.76 L421.05,1265.69 L422.23,1260.10 L423.62,1253.46 L425.12,1246.25 L426.64,1238.94 L428.08,1232.01 L429.20,1226.26 L430.30,1220.36 L431.41,1214.37 L432.54,1208.36 L433.71,1202.39 L434.95,1196.54 L436.27,1190.86 L437.92,1184.40 L439.67,1178.03 L441.49,1171.77 L443.38,1165.64 L445.30,1159.66 L447.24,1153.86 L449.78,1146.77 L452.55,1139.55 L455.29,1132.72 L457.73,1126.80 L459.60,1122.37 L461.52,1118.34 L461.47,1118.48Z" fill="#262626" stroke="#262626" stroke-width="0.35" stroke-linejoin="round" opacity="1"/>
<path d="M420.20,1269.58 L420.17,1262.25 L419.80,1252.32 L419.12,1245.58 L418.22,1238.48 L417.08,1231.59 L415.41,1224.53 L413.52,1217.74 L412.16,1213.03 L410.24,1213.57 L411.53,1218.29 L413.34,1225.05 L414.92,1232.01 L416.04,1238.80 L416.93,1245.83 L417.60,1252.48 L418.27,1262.33 L418.60,1269.62Z" fill="#262626" stroke="#262626" stroke-width="0.35" stroke-linejoin="round" opacity="1"/>
<path d="M410.68,1212.45 L401.72,1217.92 L392.77,1223.39 L383.82,1228.86 L384.98,1230.74 L393.89,1225.21 L402.81,1219.68 L411.72,1214.15Z" fill="#262626" stroke="#262626" stroke-width="0.35" stroke-linejoin="round" opacity="1"/>
<path d="M385.30,1230.44 L388.54,1225.86 L392.18,1220.00 L394.26,1214.57 L395.10,1209.84 L394.34,1206.44 L391.30,1204.71 L385.77,1205.26 L379.80,1206.52 L375.10,1207.43 L371.80,1208.12 L372.20,1210.08 L375.50,1209.39 L380.20,1208.48 L386.08,1207.23 L391.10,1206.69 L392.61,1207.62 L392.90,1209.76 L392.14,1213.96 L390.22,1219.00 L386.71,1224.65 L383.50,1229.16Z" fill="#262626" stroke="#262626" stroke-width="0.35" stroke-linejoin="round" opacity="1"/>
<path d="M372.99,1208.98 L371.59,1197.38 L369.61,1197.62 L371.01,1209.22Z" fill="#262626" stroke="#262626" stroke-width="0.35" stroke-linejoin="round" opacity="1"/>
<path d="M373.09,1204.06 L377.66,1199.69 L377.34,1199.31 L372.31,1203.14Z" fill="#262626" stroke="#262626" stroke-width="0.35" stroke-linejoin="round" opacity="0.8"/>
<path d="M371.60,1197.55 L371.83,1193.03 L372.15,1186.77 L372.52,1179.36 L372.93,1171.38 L373.33,1163.42 L373.70,1156.05 L374.04,1149.35 L374.39,1142.87 L374.74,1136.40 L375.08,1129.73 L375.40,1122.68 L375.70,1115.04 L375.88,1109.42 L376.06,1103.36 L376.23,1096.99 L376.39,1090.44 L376.54,1083.86 L376.69,1077.39 L376.83,1071.17 L376.97,1065.33 L377.10,1060.03 L377.36,1051.51 L377.61,1043.87 L377.84,1036.99 L378.01,1030.74 L378.10,1025.00 L378.01,1016.82 L377.73,1010.31 L377.45,1004.93 L377.09,999.28 L376.69,994.89 L376.29,990.19 L375.74,984.85 L374.83,977.49 L373.73,969.79 L372.38,962.56 L371.27,957.23 L368.73,957.77 L369.87,963.06 L371.27,970.21 L372.35,977.82 L373.26,985.15 L373.86,990.43 L374.31,995.11 L374.75,999.47 L375.15,1005.07 L375.47,1010.43 L375.77,1016.88 L375.90,1025.00 L375.85,1030.70 L375.72,1036.93 L375.53,1043.81 L375.32,1051.45 L375.10,1059.97 L374.97,1065.29 L374.83,1071.12 L374.69,1077.35 L374.55,1083.82 L374.39,1090.39 L374.23,1096.94 L374.06,1103.31 L373.89,1109.36 L373.70,1114.96 L373.40,1122.60 L373.08,1129.64 L372.75,1136.29 L372.40,1142.76 L372.05,1149.25 L371.70,1155.95 L371.33,1163.32 L370.93,1171.28 L370.53,1179.26 L370.15,1186.67 L369.83,1192.93 L369.60,1197.45Z" fill="#262626" stroke="#262626" stroke-width="0.35" stroke-linejoin="round" opacity="1"/>
<path d="M371.06,958.26 L372.47,956.37 L374.21,953.70 L375.87,950.71 L376.99,947.18 L376.81,943.09 L375.22,939.13 L371.75,936.03 L367.24,934.12 L361.89,934.18 L357.68,934.83 L358.32,938.17 L362.23,937.26 L366.76,936.88 L370.18,938.47 L372.78,940.87 L373.88,943.72 L374.01,946.82 L373.19,949.60 L371.79,952.30 L370.22,954.88 L368.94,956.74Z" fill="#262626" stroke="#262626" stroke-width="0.35" stroke-linejoin="round" opacity="1"/>
<path d="M358.97,938.01 L360.78,936.85 L364.09,934.43 L369.71,930.04 L376.23,924.31 L380.54,919.84 L384.82,914.92 L388.50,909.90 L392.21,902.44 L394.55,895.40 L395.41,889.05 L395.50,884.58 L393.10,884.42 L392.64,888.70 L391.45,894.60 L389.13,901.12 L385.50,908.10 L382.07,912.70 L377.91,917.42 L373.77,921.69 L367.41,927.27 L361.91,931.57 L358.72,933.90 L357.03,934.99Z" fill="#262626" stroke="#262626" stroke-width="0.35" stroke-linejoin="round" opacity="1"/>
<path d="M394.40,885.09 L398.62,884.44 L404.33,882.62 L410.14,878.49 L415.57,873.56 L419.51,869.02 L422.75,864.50 L426.08,859.49 L428.53,855.61 L426.47,854.39 L424.29,858.39 L421.25,863.50 L418.17,867.98 L414.43,872.44 L409.19,877.33 L403.67,881.38 L398.30,883.18 L394.20,883.91Z" fill="#262626" stroke="#262626" stroke-width="0.35" stroke-linejoin="round" opacity="1"/>
</g>
<g fill="#111"><rect x="352.7" y="222.0" width="9" height="9"/>
<rect x="352.7" y="278.8" width="9" height="9"/>
<rect x="352.7" y="335.5" width="9" height="9"/>
<rect x="352.7" y="392.3" width="9" height="9"/>
<rect x="352.7" y="449.1" width="9" height="9"/>
<rect x="352.7" y="505.9" width="9" height="9"/>
<rect x="352.7" y="562.6" width="9" height="9"/>
<rect x="352.7" y="619.4" width="9" height="9"/>
<rect x="352.7" y="676.2" width="9" height="9"/>
<rect x="352.7" y="732.9" width="9" height="9"/></g>
<g fill="#0a0a0a"><circle cx="250.0" cy="586.8" r="2.48"/>
<circle cx="1035.9" cy="389.0" r="2.48"/>
<circle cx="1049.9" cy="588.9" r="2.48"/>
<circle cx="136.3" cy="1058.3" r="2.4"/>
<circle cx="145.5" cy="1058.3" r="2.4"/>
<circle cx="154.9" cy="1058.3" r="2.4"/>
<circle cx="174.7" cy="1127.6" r="2.16"/>
<circle cx="391.2" cy="1097.2" r="2.7"/>
<circle cx="400.9" cy="1097.2" r="2.7"/>
<circle cx="410.5" cy="1097.2" r="2.7"/>
<circle cx="904.9" cy="927.9" r="2.16"/></g>
<g>
<text transform="translate(167.80,149.60) scale(0.8990,1.000)" font-size="27" font-weight="normal" stroke-width="0.9" style="word-spacing:2.97px">Repeat</text>
<text transform="translate(187.70,189.55) scale(0.9024,1.000)" font-size="27" font-weight="normal" stroke-width="0.9" style="word-spacing:2.97px">this</text>
<text transform="translate(166.10,229.50) scale(0.8519,1.000)" font-size="27" font-weight="normal" stroke-width="0.9" style="word-spacing:2.97px">process</text>
<text transform="translate(174.00,269.45) scale(0.9472,1.000)" font-size="27" font-weight="normal" stroke-width="0.9" style="word-spacing:2.97px">and if</text>
<text transform="translate(153.80,309.40) scale(0.8915,1.000)" font-size="27" font-weight="normal" stroke-width="0.9" style="word-spacing:2.97px">those two</text>
<text transform="translate(174.00,349.35) scale(0.9337,1.000)" font-size="27" font-weight="normal" stroke-width="0.9" style="word-spacing:2.97px">in the</text>
<text transform="translate(183.40,389.30) scale(0.9077,1.000)" font-size="27" font-weight="normal" stroke-width="0.9" style="word-spacing:2.97px">next</text>
<text transform="translate(179.80,429.25) scale(0.8715,1.000)" font-size="27" font-weight="normal" stroke-width="0.9" style="word-spacing:2.97px">room</text>
<text transform="translate(179.80,469.20) scale(0.9319,1.000)" font-size="27" font-weight="normal" stroke-width="0.9" style="word-spacing:2.97px">don't</text>
<text transform="translate(172.00,509.15) scale(0.9616,1.000)" font-size="27" font-weight="normal" stroke-width="0.9" style="word-spacing:2.97px">finally</text>
<text transform="translate(153.80,549.10) scale(0.8653,1.000)" font-size="27" font-weight="normal" stroke-width="0.9" style="word-spacing:2.97px">have sex,</text>
<text transform="translate(158.48,589.05) scale(0.9221,1.000)" font-size="27" font-weight="normal" stroke-width="0.9" style="word-spacing:2.97px">you win.</text>
<text transform="translate(920.05,111.50) scale(0.8949,1.000)" font-size="27" font-weight="normal" stroke-width="0.9" style="word-spacing:2.97px">And of those two</text>
<text transform="translate(952.10,151.47) scale(0.9158,1.000)" font-size="27" font-weight="normal" stroke-width="0.9" style="word-spacing:2.97px">one will be</text>
<text transform="translate(934.10,191.44) scale(0.9107,1.000)" font-size="27" font-weight="normal" stroke-width="0.9" style="word-spacing:2.97px">chosen by the</text>
<text transform="translate(964.20,231.41) scale(0.9005,1.000)" font-size="27" font-weight="normal" stroke-width="0.9" style="word-spacing:2.97px">audience</text>
<text transform="translate(922.60,271.38) scale(0.9644,1.000)" font-size="27" font-weight="normal" stroke-width="0.9" style="word-spacing:2.97px">survey, and will</text>
<text transform="translate(922.00,311.35) scale(0.9489,1.000)" font-size="27" font-weight="normal" stroke-width="0.9" style="word-spacing:2.97px">actually be sent</text>
<text transform="translate(952.40,351.32) scale(0.9245,1.000)" font-size="27" font-weight="normal" stroke-width="0.9" style="word-spacing:2.97px">to the next</text>
<text transform="translate(976.70,391.29) scale(0.8942,1.000)" font-size="27" font-weight="normal" stroke-width="0.9" style="word-spacing:2.97px">room.</text>
<text transform="translate(944.50,431.26) scale(0.9043,1.000)" font-size="27" font-weight="normal" stroke-width="0.9" style="word-spacing:2.97px">Once you've</text>
<text transform="translate(937.40,471.23) scale(0.8699,1.000)" font-size="27" font-weight="normal" stroke-width="0.9" style="word-spacing:2.97px">chosen a tool,</text>
<text transform="translate(940.53,511.20) scale(0.9585,1.000)" font-size="27" font-weight="normal" stroke-width="0.9" style="word-spacing:2.97px">you can't re-</text>
<text transform="translate(950.20,551.17) scale(0.9386,1.000)" font-size="27" font-weight="normal" stroke-width="0.9" style="word-spacing:2.97px">select it, of</text>
<text transform="translate(972.80,591.14) scale(0.8994,1.000)" font-size="27" font-weight="normal" stroke-width="0.9" style="word-spacing:2.97px">course.</text>
<text transform="translate(105.60,1025.70) scale(0.9291,1.000)" font-size="23.5" font-weight="normal" stroke-width="0.85" style="word-spacing:2.58px">Ha-ha!</text>
<text transform="translate(74.40,1060.80) scale(0.8484,1.000)" font-size="23.5" font-weight="normal" stroke-width="0.85" style="word-spacing:2.58px">Stupid</text>
<text transform="translate(176.90,1060.80) scale(1.0556,1.000)" font-size="23.5" font-weight="normal" stroke-width="0.85" style="word-spacing:2.58px">I'm</text>
<text transform="translate(79.46,1094.80) scale(0.9122,1.000)" font-size="23.5" font-weight="normal" stroke-width="0.85" style="word-spacing:2.58px">just screwing</text>
<text transform="translate(106.10,1129.60) scale(0.8883,1.000)" font-size="23.5" font-weight="normal" stroke-width="0.85" style="word-spacing:2.58px">around.</text>
<text transform="translate(381.50,992.50) scale(0.9182,1.000)" font-size="23.5" font-weight="normal" stroke-width="0.85" style="word-spacing:2.58px">Don't</text>
<text transform="translate(395.20,1027.00) scale(0.8544,1.000)" font-size="23.5" font-weight="normal" stroke-width="0.85" style="word-spacing:2.58px">be</text>
<text transform="translate(379.00,1062.50) scale(0.8768,1.000)" font-size="23.5" font-weight="normal" stroke-width="0.85" style="word-spacing:2.58px">stupid</text>
<text transform="translate(415.80,1100.00) scale(1.2000,1.000)" font-size="23.5" font-weight="normal" stroke-width="0.85" style="word-spacing:2.58px">!</text>
<text transform="translate(816.60,929.90) scale(0.9743,1.000)" font-size="23.5" font-weight="normal" stroke-width="0.85" style="word-spacing:2.58px">It's okay.</text>
<text transform="translate(814.10,964.75) scale(0.8736,1.000)" font-size="23.5" font-weight="normal" stroke-width="0.85" style="word-spacing:2.58px">She's your</text>
<text transform="translate(817.50,999.60) scale(0.9328,1.000)" font-size="23.5" font-weight="normal" stroke-width="0.85" style="word-spacing:2.58px">girlfriend,</text>
<text transform="translate(834.70,1034.45) scale(0.9677,1.000)" font-size="23.5" font-weight="normal" stroke-width="0.85" style="word-spacing:2.58px">right?</text>
<text transform="translate(817.00,1069.30) scale(0.8492,1.000)" font-size="23.5" font-weight="normal" stroke-width="0.85" style="word-spacing:2.58px">She is not</text>
<text transform="translate(810.50,1104.15) scale(0.8470,1.000)" font-size="23.5" font-weight="normal" stroke-width="0.85" style="word-spacing:2.58px">gonna have</text>
<text transform="translate(802.40,1139.00) scale(0.8983,1.000)" font-size="23.5" font-weight="normal" stroke-width="0.85" style="word-spacing:2.58px">sex with him</text>
<text transform="translate(796.90,1173.85) scale(0.9131,1.000)" font-size="23.5" font-weight="normal" stroke-width="0.85" style="word-spacing:2.58px">in a few mind</text>
<text transform="translate(798.30,1208.70) scale(0.9015,1.000)" font-size="23.5" font-weight="normal" stroke-width="0.85" style="word-spacing:2.58px">games, haha!</text>
<text transform="translate(1012.10,1004.80) scale(0.8847,1.000)" font-size="23.5" font-weight="normal" stroke-width="0.85" style="word-spacing:2.58px">That's</text>
<text transform="translate(1015.30,1039.40) scale(0.8319,1.000)" font-size="23.5" font-weight="normal" stroke-width="0.85" style="word-spacing:2.58px">Disgu</text>
<text transform="translate(1018.60,1074.30) scale(0.9012,1.000)" font-size="23.5" font-weight="normal" stroke-width="0.85" style="word-spacing:2.58px">sting</text>
<text transform="translate(396.05,242.00) scale(0.6517,1.000)" font-size="44" font-weight="bold" stroke-width="0" style="word-spacing:9.00px">Alcohol</text>
<text transform="translate(396.30,298.77) scale(0.6926,1.000)" font-size="44" font-weight="bold" stroke-width="0" style="word-spacing:9.00px">Condensed milk</text>
<text transform="translate(397.50,355.54) scale(0.6783,1.000)" font-size="44" font-weight="bold" stroke-width="0" style="word-spacing:9.00px">Pocky</text>
<text transform="translate(396.30,412.31) scale(0.7056,1.000)" font-size="44" font-weight="bold" stroke-width="0" style="word-spacing:9.00px">Grilled eel</text>
<text transform="translate(396.30,469.08) scale(0.7227,1.000)" font-size="44" font-weight="bold" stroke-width="0" style="word-spacing:9.00px">Chocolate banana</text>
<text transform="translate(396.30,525.85) scale(0.6605,1.000)" font-size="44" font-weight="bold" stroke-width="0" style="word-spacing:9.00px">Sun oil</text>
<text transform="translate(396.30,582.62) scale(0.7128,1.000)" font-size="44" font-weight="bold" stroke-width="0" style="word-spacing:9.00px">Micro bikini</text>
<text transform="translate(396.30,639.39) scale(0.7222,1.000)" font-size="44" font-weight="bold" stroke-width="0" style="word-spacing:9.00px">Electric massage machine</text>
<text transform="translate(396.30,696.16) scale(0.6771,1.000)" font-size="44" font-weight="bold" stroke-width="0" style="word-spacing:9.00px">Condom</text>
<text transform="translate(397.50,752.93) scale(0.6677,1.000)" font-size="44" font-weight="bold" stroke-width="0" style="word-spacing:9.00px">Pill</text>
</g>
</svg>
</body></html>
